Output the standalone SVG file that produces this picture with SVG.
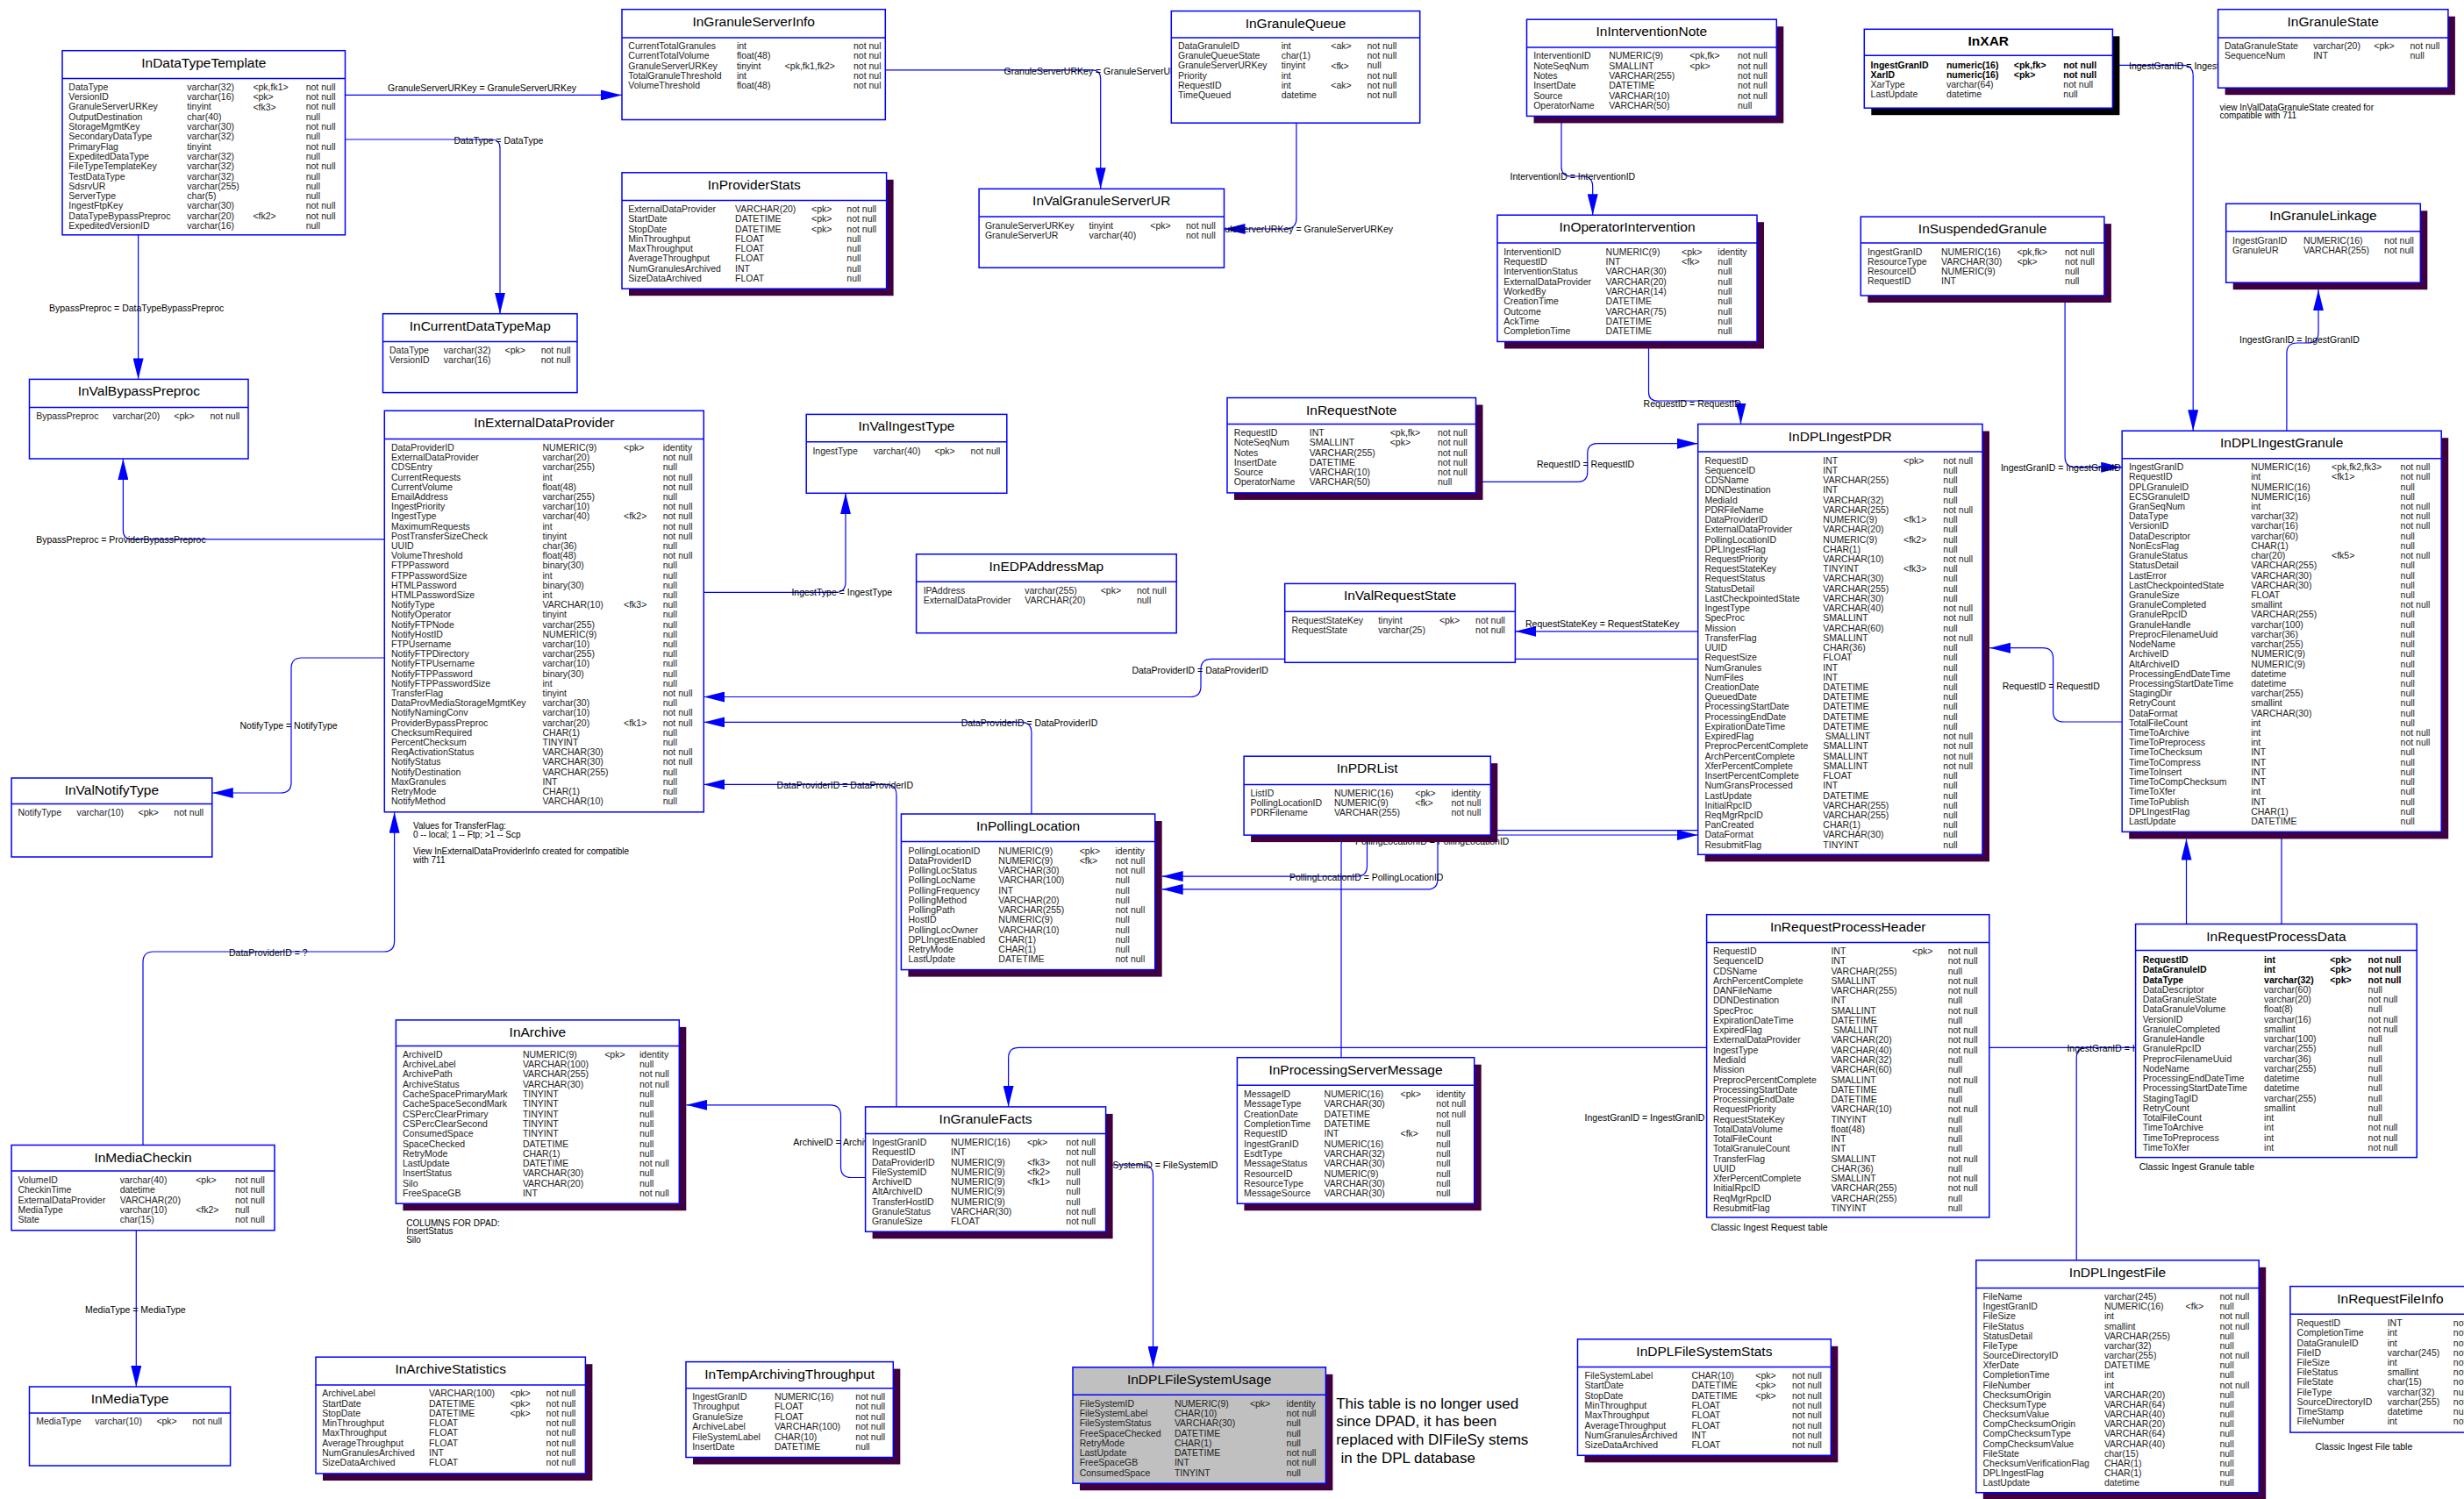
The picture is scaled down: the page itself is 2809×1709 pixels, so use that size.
<svg xmlns="http://www.w3.org/2000/svg" width="2809" height="1709" viewBox="0 0 2809 1709">
<defs>
<marker id="a" markerUnits="userSpaceOnUse" markerWidth="24" markerHeight="12" refX="24" refY="6" orient="auto"><path d="M0,0 L24,6 L0,12 z" fill="#0000ff"/></marker>
<style>
text{font-family:"Liberation Sans",Arial,sans-serif}
.r{font-size:10.5px;fill:#222}
.b{font-weight:bold;fill:#000}
.t{font-size:15.5px;fill:#000;text-anchor:middle}
.tb{font-weight:bold}
.l{font-size:10.5px;fill:#000}
.e{text-anchor:end}
.n{font-size:10px;fill:#000}
.big{font-size:17px;fill:#000}
.box{fill:#fff;stroke:#0000ff;stroke-width:1.5}
.gray{fill:#c0c0c0}
.sh{fill:#400040}
.shk{fill:#000}
.hd{stroke:#0000ff;stroke-width:1.5}
.c{fill:none;stroke:#0000ff;stroke-width:1.2;marker-end:url(#a)}
.p{fill:none;stroke:#0000ff;stroke-width:1.2}
</style>
</defs>
<rect x="0" y="0" width="2809" height="1709" fill="#fff"/>

<g id="connectors">
<path class="c" d="M393.5,108.4 H709"/>
<path class="c" d="M393.5,159 H560 Q570,159 570,169 V357.7"/>
<path class="c" d="M157.6,267.8 V432.4"/>
<path class="c" d="M438.3,614.8 H150.4 Q140.4,614.8 140.4,604.8 V523"/>
<path class="c" d="M438.3,750 H344 Q332,750 332,762 V892 Q332,904 320,904 H241.8"/>
<path class="c" d="M163,1305.5 V1097 Q163,1085 175,1085 H437.6 Q449.6,1085 449.6,1073 V925.8"/>
<path class="c" d="M155.3,1402.7 V1581"/>
<path class="c" d="M1009.3,79.9 H1244.7 Q1254.7,79.9 1254.7,89.9 V215.3"/>
<path class="c" d="M1477.9,140.2 V249 Q1477.9,261 1465.9,261 H1395.5"/>
<path class="c" d="M802.3,675.4 H952 Q964,675.4 964,663.4 V562.3"/>
<path class="c" d="M1935.7,751.3 H1381 Q1369,751.3 1369,763.3 V782.5 Q1369,794.5 1357,794.5 H802.3"/>
<path class="c" d="M1175.9,928 V835.4 Q1175.9,823.4 1163.9,823.4 H802.3"/>
<path class="c" d="M1022,1261.9 V906.4 Q1022,894.4 1010,894.4 H802.3"/>
<path class="c" d="M1780,132.4 V190 Q1780,201 1791,201 H1804 Q1815.7,201 1815.7,213 V245.2"/>
<path class="c" d="M1879.5,389.5 V447 Q1879.5,457 1889.5,457 H1974.5 Q1984.5,457 1984.5,467 V483.5"/>
<path class="c" d="M1682.5,549.3 H1798.5 Q1809.8,549.3 1809.8,538 V517 Q1809.8,505.7 1821,505.7 H1935.7"/>
<path class="c" d="M1935.7,719.8 H1727.4"/>
<path class="c" d="M1558.5,952.1 V987 Q1558.5,999.1 1546.5,999.1 H1324.7"/>
<path class="c" d="M1935.7,946.6 H1651 Q1639,946.6 1639,958.6 V1001.9 Q1639,1013.9 1627,1013.9 H1324.7"/>
<path class="c" d="M1529,1205.7 V964 Q1529,952 1541,952 H1935.7"/>
<path class="c" d="M2419.2,823 H2352.6 Q2340.6,823 2340.6,811 V750.7 Q2340.6,738.7 2328.6,738.7 H2268.2"/>
<path class="c" d="M2408.4,74.4 H2488.2 Q2500.2,74.4 2500.2,86.4 V491.2"/>
<path class="c" d="M2354.1,337 V520.7 Q2354.1,532.7 2366.1,532.7 H2419.2"/>
<path class="c" d="M2606.9,491.2 V403 Q2606.9,391 2618.9,391 H2631 Q2643,391 2643,379 V330.2"/>
<path class="c" d="M2492.5,1053.5 V956.6"/>
<path class="p" d="M2601,948.4 V1053.5"/>
<path class="c" d="M986.6,1342.5 H970.5 Q958.5,1342.5 958.5,1330.5 V1271.8 Q958.5,1259.8 946.5,1259.8 H782.4"/>
<path class="c" d="M1260.6,1328 H1302.5 Q1314.5,1328 1314.5,1340 V1558.8"/>
<path class="c" d="M2434.6,1194.4 H1161.6 Q1149.6,1194.4 1149.6,1206.4 V1261.9"/>
<path class="p" d="M2367.2,1436.8 V1206.4 Q2367.2,1194.4 2379.2,1194.4"/>
<text class="l" x="442" y="104">GranuleServerURKey = GranuleServerURKey</text>
<text class="l" x="517.5" y="163.8">DataType = DataType</text>
<text class="l" x="56" y="355.2">BypassPreproc = DataTypeBypassPreproc</text>
<text class="l" x="41.2" y="618.6">BypassPreproc = ProviderBypassPreproc</text>
<text class="l" x="273.5" y="830.8">NotifyType = NotifyType</text>
<text class="l" x="261" y="1089.8">DataProviderID = ?</text>
<text class="l" x="97" y="1497">MediaType = MediaType</text>
<text class="l" x="1144.6" y="84.8">GranuleServerURKey = GranuleServerURKey</text>
<text class="l e" x="1588" y="264.8">GranuleServerURKey = GranuleServerURKey</text>
<text class="l" x="902.4" y="679.2">IngestType = IngestType</text>
<text class="l" x="1290.4" y="768">DataProviderID = DataProviderID</text>
<text class="l" x="1095.7" y="827.8">DataProviderID = DataProviderID</text>
<text class="l" x="885.6" y="898.8">DataProviderID = DataProviderID</text>
<text class="l" x="1721.5" y="205">InterventionID = InterventionID</text>
<text class="l" x="1873.6" y="463.8">RequestID = RequestID</text>
<text class="l" x="1752" y="532.8">RequestID = RequestID</text>
<text class="l" x="1739" y="715.1">RequestStateKey = RequestStateKey</text>
<text class="l" x="1470" y="1004">PollingLocationID = PollingLocationID</text>
<text class="l" x="1545" y="962.8">PollingLocationID = PollingLocationID</text>
<text class="l" x="2282.7" y="786.1">RequestID = RequestID</text>
<text class="l" x="2427" y="79.3">IngestGranID = IngestGranID</text>
<text class="l" x="2280.9" y="537.2">IngestGranID = IngestGranID</text>
<text class="l" x="2553" y="391.1">IngestGranID = IngestGranID</text>
<text class="l" x="904.2" y="1306">ArchiveID = ArchiveID</text>
<text class="l e" x="1388.3" y="1331.8">FileSystemID = FileSystemID</text>
<text class="l" x="1806.6" y="1278.4">IngestGranID = IngestGranID</text>
<text class="l" x="2356.4" y="1199">IngestGranID = IngestGranID</text>
</g>

<g id="InDataTypeTemplate">
<rect class="box" x="71" y="57.7" width="322.5" height="210.1"/>
<line class="hd" x1="71" y1="89.5" x2="393.5" y2="89.5"/>
<text class="t" x="232.3" y="76.7">InDataTypeTemplate</text>
<text class="r" y="102.9"><tspan x="78.3">DataType</tspan><tspan x="78.3" dy="11.29">VersionID</tspan><tspan x="78.3" dy="11.29">GranuleServerURKey</tspan><tspan x="78.3" dy="11.29">OutputDestination</tspan><tspan x="78.3" dy="11.29">StorageMgmtKey</tspan><tspan x="78.3" dy="11.29">SecondaryDataType</tspan><tspan x="78.3" dy="11.29">PrimaryFlag</tspan><tspan x="78.3" dy="11.29">ExpeditedDataType</tspan><tspan x="78.3" dy="11.29">FileTypeTemplateKey</tspan><tspan x="78.3" dy="11.29">TestDataType</tspan><tspan x="78.3" dy="11.29">SdsrvUR</tspan><tspan x="78.3" dy="11.29">ServerType</tspan><tspan x="78.3" dy="11.29">IngestFtpKey</tspan><tspan x="78.3" dy="11.29">DataTypeBypassPreproc</tspan><tspan x="78.3" dy="11.29">ExpeditedVersionID</tspan></text>
<text class="r" y="102.9"><tspan x="213.3">varchar(32)</tspan><tspan x="213.3" dy="11.29">varchar(16)</tspan><tspan x="213.3" dy="11.29">tinyint</tspan><tspan x="213.3" dy="11.29">char(40)</tspan><tspan x="213.3" dy="11.29">varchar(30)</tspan><tspan x="213.3" dy="11.29">varchar(32)</tspan><tspan x="213.3" dy="11.29">tinyint</tspan><tspan x="213.3" dy="11.29">varchar(32)</tspan><tspan x="213.3" dy="11.29">varchar(32)</tspan><tspan x="213.3" dy="11.29">varchar(32)</tspan><tspan x="213.3" dy="11.29">varchar(255)</tspan><tspan x="213.3" dy="11.29">char(5)</tspan><tspan x="213.3" dy="11.29">varchar(30)</tspan><tspan x="213.3" dy="11.29">varchar(20)</tspan><tspan x="213.3" dy="11.29">varchar(16)</tspan></text>
<text class="r" x="288.4" y="102.9">&lt;pk,fk1&gt;</text>
<text class="r" x="288.4" y="114.2">&lt;pk&gt;</text>
<text class="r" x="288.4" y="125.5">&lt;fk3&gt;</text>
<text class="r" x="288.4" y="249.7">&lt;fk2&gt;</text>
<text class="r" y="102.9"><tspan x="348.7">not null</tspan><tspan x="348.7" dy="11.29">not null</tspan><tspan x="348.7" dy="11.29">not null</tspan><tspan x="348.7" dy="11.29">null</tspan><tspan x="348.7" dy="11.29">not null</tspan><tspan x="348.7" dy="11.29">null</tspan><tspan x="348.7" dy="11.29">not null</tspan><tspan x="348.7" dy="11.29">null</tspan><tspan x="348.7" dy="11.29">not null</tspan><tspan x="348.7" dy="11.29">null</tspan><tspan x="348.7" dy="11.29">null</tspan><tspan x="348.7" dy="11.29">null</tspan><tspan x="348.7" dy="11.29">not null</tspan><tspan x="348.7" dy="11.29">not null</tspan><tspan x="348.7" dy="11.29">null</tspan></text>
</g>

<g id="InValBypassPreproc">
<rect class="box" x="33.5" y="432.4" width="249.5" height="90.6"/>
<line class="hd" x1="33.5" y1="464.6" x2="283" y2="464.6"/>
<text class="t" x="158.3" y="451.4">InValBypassPreproc</text>
<text class="r" x="41.2" y="477.8">BypassPreproc</text><text class="r" x="128.6" y="477.8">varchar(20)</text><text class="r" x="198.3" y="477.8">&lt;pk&gt;</text><text class="r" x="239.5" y="477.8">not null</text>
</g>

<g id="InCurrentDataTypeMap">
<rect class="box" x="436.5" y="357.7" width="221.5" height="89.9"/>
<line class="hd" x1="436.5" y1="389.5" x2="658" y2="389.5"/>
<text class="t" x="547.3" y="376.7">InCurrentDataTypeMap</text>
<text class="r" x="444" y="402.8">DataType</text><text class="r" x="505.8" y="402.8">varchar(32)</text><text class="r" x="575.5" y="402.8">&lt;pk&gt;</text><text class="r" x="616.7" y="402.8">not null</text>
<text class="r" x="444" y="414.3">VersionID</text><text class="r" x="505.8" y="414.3">varchar(16)</text><text class="r" x="616.7" y="414.3">not null</text>
</g>

<g id="InExternalDataProvider">
<rect class="box" x="438.3" y="468.3" width="364" height="457.5"/>
<line class="hd" x1="438.3" y1="500.5" x2="802.3" y2="500.5"/>
<text class="t" x="620.3" y="487.3">InExternalDataProvider</text>
<text class="r" y="513.9"><tspan x="446">DataProviderID</tspan><tspan x="446" dy="11.2">ExternalDataProvider</tspan><tspan x="446" dy="11.2">CDSEntry</tspan><tspan x="446" dy="11.2">CurrentRequests</tspan><tspan x="446" dy="11.2">CurrentVolume</tspan><tspan x="446" dy="11.2">EmailAddress</tspan><tspan x="446" dy="11.2">IngestPriority</tspan><tspan x="446" dy="11.2">IngestType</tspan><tspan x="446" dy="11.2">MaximumRequests</tspan><tspan x="446" dy="11.2">PostTransferSizeCheck</tspan><tspan x="446" dy="11.2">UUID</tspan><tspan x="446" dy="11.2">VolumeThreshold</tspan><tspan x="446" dy="11.2">FTPPassword</tspan><tspan x="446" dy="11.2">FTPPasswordSize</tspan><tspan x="446" dy="11.2">HTMLPassword</tspan><tspan x="446" dy="11.2">HTMLPasswordSize</tspan><tspan x="446" dy="11.2">NotifyType</tspan><tspan x="446" dy="11.2">NotifyOperator</tspan><tspan x="446" dy="11.2">NotifyFTPNode</tspan><tspan x="446" dy="11.2">NotifyHostID</tspan><tspan x="446" dy="11.2">FTPUsername</tspan><tspan x="446" dy="11.2">NotifyFTPDirectory</tspan><tspan x="446" dy="11.2">NotifyFTPUsername</tspan><tspan x="446" dy="11.2">NotifyFTPPassword</tspan><tspan x="446" dy="11.2">NotifyFTPPasswordSize</tspan><tspan x="446" dy="11.2">TransferFlag</tspan><tspan x="446" dy="11.2">DataProvMediaStorageMgmtKey</tspan><tspan x="446" dy="11.2">NotifyNamingConv</tspan><tspan x="446" dy="11.2">ProviderBypassPreproc</tspan><tspan x="446" dy="11.2">ChecksumRequired</tspan><tspan x="446" dy="11.2">PercentChecksum</tspan><tspan x="446" dy="11.2">ReqActivationStatus</tspan><tspan x="446" dy="11.2">NotifyStatus</tspan><tspan x="446" dy="11.2">NotifyDestination</tspan><tspan x="446" dy="11.2">MaxGranules</tspan><tspan x="446" dy="11.2">RetryMode</tspan><tspan x="446" dy="11.2">NotifyMethod</tspan></text>
<text class="r" y="513.9"><tspan x="618.5">NUMERIC(9)</tspan><tspan x="618.5" dy="11.2">varchar(20)</tspan><tspan x="618.5" dy="11.2">varchar(255)</tspan><tspan x="618.5" dy="11.2">int</tspan><tspan x="618.5" dy="11.2">float(48)</tspan><tspan x="618.5" dy="11.2">varchar(255)</tspan><tspan x="618.5" dy="11.2">varchar(10)</tspan><tspan x="618.5" dy="11.2">varchar(40)</tspan><tspan x="618.5" dy="11.2">int</tspan><tspan x="618.5" dy="11.2">tinyint</tspan><tspan x="618.5" dy="11.2">char(36)</tspan><tspan x="618.5" dy="11.2">float(48)</tspan><tspan x="618.5" dy="11.2">binary(30)</tspan><tspan x="618.5" dy="11.2">int</tspan><tspan x="618.5" dy="11.2">binary(30)</tspan><tspan x="618.5" dy="11.2">int</tspan><tspan x="618.5" dy="11.2">VARCHAR(10)</tspan><tspan x="618.5" dy="11.2">tinyint</tspan><tspan x="618.5" dy="11.2">varchar(255)</tspan><tspan x="618.5" dy="11.2">NUMERIC(9)</tspan><tspan x="618.5" dy="11.2">varchar(10)</tspan><tspan x="618.5" dy="11.2">varchar(255)</tspan><tspan x="618.5" dy="11.2">varchar(10)</tspan><tspan x="618.5" dy="11.2">binary(30)</tspan><tspan x="618.5" dy="11.2">int</tspan><tspan x="618.5" dy="11.2">tinyint</tspan><tspan x="618.5" dy="11.2">varchar(30)</tspan><tspan x="618.5" dy="11.2">varchar(10)</tspan><tspan x="618.5" dy="11.2">varchar(20)</tspan><tspan x="618.5" dy="11.2">CHAR(1)</tspan><tspan x="618.5" dy="11.2">TINYINT</tspan><tspan x="618.5" dy="11.2">VARCHAR(30)</tspan><tspan x="618.5" dy="11.2">VARCHAR(30)</tspan><tspan x="618.5" dy="11.2">VARCHAR(255)</tspan><tspan x="618.5" dy="11.2">INT</tspan><tspan x="618.5" dy="11.2">CHAR(1)</tspan><tspan x="618.5" dy="11.2">VARCHAR(10)</tspan></text>
<text class="r" x="711" y="513.9">&lt;pk&gt;</text>
<text class="r" x="711" y="592.3">&lt;fk2&gt;</text>
<text class="r" x="711" y="693.1">&lt;fk3&gt;</text>
<text class="r" x="711" y="827.5">&lt;fk1&gt;</text>
<text class="r" y="513.9"><tspan x="755.7">identity</tspan><tspan x="755.7" dy="11.2">not null</tspan><tspan x="755.7" dy="11.2">null</tspan><tspan x="755.7" dy="11.2">not null</tspan><tspan x="755.7" dy="11.2">not null</tspan><tspan x="755.7" dy="11.2">null</tspan><tspan x="755.7" dy="11.2">not null</tspan><tspan x="755.7" dy="11.2">not null</tspan><tspan x="755.7" dy="11.2">not null</tspan><tspan x="755.7" dy="11.2">not null</tspan><tspan x="755.7" dy="11.2">null</tspan><tspan x="755.7" dy="11.2">not null</tspan><tspan x="755.7" dy="11.2">null</tspan><tspan x="755.7" dy="11.2">null</tspan><tspan x="755.7" dy="11.2">null</tspan><tspan x="755.7" dy="11.2">null</tspan><tspan x="755.7" dy="11.2">null</tspan><tspan x="755.7" dy="11.2">null</tspan><tspan x="755.7" dy="11.2">null</tspan><tspan x="755.7" dy="11.2">null</tspan><tspan x="755.7" dy="11.2">null</tspan><tspan x="755.7" dy="11.2">null</tspan><tspan x="755.7" dy="11.2">null</tspan><tspan x="755.7" dy="11.2">null</tspan><tspan x="755.7" dy="11.2">null</tspan><tspan x="755.7" dy="11.2">not null</tspan><tspan x="755.7" dy="11.2">null</tspan><tspan x="755.7" dy="11.2">not null</tspan><tspan x="755.7" dy="11.2">not null</tspan><tspan x="755.7" dy="11.2">null</tspan><tspan x="755.7" dy="11.2">null</tspan><tspan x="755.7" dy="11.2">not null</tspan><tspan x="755.7" dy="11.2">not null</tspan><tspan x="755.7" dy="11.2">null</tspan><tspan x="755.7" dy="11.2">null</tspan><tspan x="755.7" dy="11.2">null</tspan><tspan x="755.7" dy="11.2">null</tspan></text>
</g>

<g id="InValNotifyType">
<rect class="box" x="13.1" y="887" width="228.7" height="90"/>
<line class="hd" x1="13.1" y1="916.6" x2="241.8" y2="916.6"/>
<text class="t" x="127.4" y="906">InValNotifyType</text>
<text class="r" x="20.4" y="930">NotifyType</text><text class="r" x="87.4" y="930">varchar(10)</text><text class="r" x="157.6" y="930">&lt;pk&gt;</text><text class="r" x="198.3" y="930">not null</text>
</g>

<g id="InMediaCheckin">
<rect class="box" x="13.1" y="1305.5" width="299.9" height="97.2"/>
<line class="hd" x1="13.1" y1="1334.9" x2="313" y2="1334.9"/>
<text class="t" x="163" y="1324.5">InMediaCheckin</text>
<text class="r" y="1349.2"><tspan x="20.4">VolumeID</tspan><tspan x="20.4" dy="11.25">CheckinTime</tspan><tspan x="20.4" dy="11.25">ExternalDataProvider</tspan><tspan x="20.4" dy="11.25">MediaType</tspan><tspan x="20.4" dy="11.25">State</tspan></text>
<text class="r" y="1349.2"><tspan x="136.7">varchar(40)</tspan><tspan x="136.7" dy="11.25">datetime</tspan><tspan x="136.7" dy="11.25">VARCHAR(20)</tspan><tspan x="136.7" dy="11.25">varchar(10)</tspan><tspan x="136.7" dy="11.25">char(15)</tspan></text>
<text class="r" x="223.2" y="1349.2">&lt;pk&gt;</text>
<text class="r" x="223.2" y="1383">&lt;fk2&gt;</text>
<text class="r" y="1349.2"><tspan x="268">not null</tspan><tspan x="268" dy="11.25">not null</tspan><tspan x="268" dy="11.25">not null</tspan><tspan x="268" dy="11.25">null</tspan><tspan x="268" dy="11.25">not null</tspan></text>
</g>

<g id="InMediaType">
<rect class="box" x="33.5" y="1581" width="229.1" height="90"/>
<line class="hd" x1="33.5" y1="1611" x2="262.6" y2="1611"/>
<text class="t" x="148" y="1600">InMediaType</text>
<text class="r" x="41.2" y="1624.3">MediaType</text><text class="r" x="108.2" y="1624.3">varchar(10)</text><text class="r" x="178.4" y="1624.3">&lt;pk&gt;</text><text class="r" x="219.2" y="1624.3">not null</text>
</g>

<g id="InArchive">
<rect class="sh" x="459.4" y="1170.9" width="322.9" height="209.3"/>
<rect class="box" x="451.4" y="1162.9" width="322.9" height="209.3"/>
<line class="hd" x1="451.4" y1="1192.6" x2="774.3" y2="1192.6"/>
<text class="t" x="612.9" y="1181.9">InArchive</text>
<text class="r" y="1205.8"><tspan x="459">ArchiveID</tspan><tspan x="459" dy="11.3">ArchiveLabel</tspan><tspan x="459" dy="11.3">ArchivePath</tspan><tspan x="459" dy="11.3">ArchiveStatus</tspan><tspan x="459" dy="11.3">CacheSpacePrimaryMark</tspan><tspan x="459" dy="11.3">CacheSpaceSecondMark</tspan><tspan x="459" dy="11.3">CSPercClearPrimary</tspan><tspan x="459" dy="11.3">CSPercClearSecond</tspan><tspan x="459" dy="11.3">ConsumedSpace</tspan><tspan x="459" dy="11.3">SpaceChecked</tspan><tspan x="459" dy="11.3">RetryMode</tspan><tspan x="459" dy="11.3">LastUpdate</tspan><tspan x="459" dy="11.3">InsertStatus</tspan><tspan x="459" dy="11.3">Silo</tspan><tspan x="459" dy="11.3">FreeSpaceGB</tspan></text>
<text class="r" y="1205.8"><tspan x="595.9">NUMERIC(9)</tspan><tspan x="595.9" dy="11.3">VARCHAR(100)</tspan><tspan x="595.9" dy="11.3">VARCHAR(255)</tspan><tspan x="595.9" dy="11.3">VARCHAR(30)</tspan><tspan x="595.9" dy="11.3">TINYINT</tspan><tspan x="595.9" dy="11.3">TINYINT</tspan><tspan x="595.9" dy="11.3">TINYINT</tspan><tspan x="595.9" dy="11.3">TINYINT</tspan><tspan x="595.9" dy="11.3">TINYINT</tspan><tspan x="595.9" dy="11.3">DATETIME</tspan><tspan x="595.9" dy="11.3">CHAR(1)</tspan><tspan x="595.9" dy="11.3">DATETIME</tspan><tspan x="595.9" dy="11.3">VARCHAR(30)</tspan><tspan x="595.9" dy="11.3">VARCHAR(20)</tspan><tspan x="595.9" dy="11.3">INT</tspan></text>
<text class="r" x="689.2" y="1205.8">&lt;pk&gt;</text>
<text class="r" y="1205.8"><tspan x="729">identity</tspan><tspan x="729" dy="11.3">null</tspan><tspan x="729" dy="11.3">not null</tspan><tspan x="729" dy="11.3">not null</tspan><tspan x="729" dy="11.3">null</tspan><tspan x="729" dy="11.3">null</tspan><tspan x="729" dy="11.3">null</tspan><tspan x="729" dy="11.3">null</tspan><tspan x="729" dy="11.3">null</tspan><tspan x="729" dy="11.3">null</tspan><tspan x="729" dy="11.3">null</tspan><tspan x="729" dy="11.3">not null</tspan><tspan x="729" dy="11.3">null</tspan><tspan x="729" dy="11.3">null</tspan><tspan x="729" dy="11.3">not null</tspan></text>
</g>

<g id="InArchiveStatistics">
<rect class="sh" x="368" y="1555.2" width="307.4" height="132.8"/>
<rect class="box" x="360" y="1547.2" width="307.4" height="132.8"/>
<line class="hd" x1="360" y1="1579" x2="667.4" y2="1579"/>
<text class="t" x="513.7" y="1566.2">InArchiveStatistics</text>
<text class="r" y="1592.3"><tspan x="367.2">ArchiveLabel</tspan><tspan x="367.2" dy="11.26">StartDate</tspan><tspan x="367.2" dy="11.26">StopDate</tspan><tspan x="367.2" dy="11.26">MinThroughput</tspan><tspan x="367.2" dy="11.26">MaxThroughput</tspan><tspan x="367.2" dy="11.26">AverageThroughput</tspan><tspan x="367.2" dy="11.26">NumGranulesArchived</tspan><tspan x="367.2" dy="11.26">SizeDataArchived</tspan></text>
<text class="r" y="1592.3"><tspan x="489">VARCHAR(100)</tspan><tspan x="489" dy="11.26">DATETIME</tspan><tspan x="489" dy="11.26">DATETIME</tspan><tspan x="489" dy="11.26">FLOAT</tspan><tspan x="489" dy="11.26">FLOAT</tspan><tspan x="489" dy="11.26">FLOAT</tspan><tspan x="489" dy="11.26">INT</tspan><tspan x="489" dy="11.26">FLOAT</tspan></text>
<text class="r" y="1592.3"><tspan x="581.4">&lt;pk&gt;</tspan><tspan x="581.4" dy="11.26">&lt;pk&gt;</tspan><tspan x="581.4" dy="11.26">&lt;pk&gt;</tspan></text>
<text class="r" y="1592.3"><tspan x="622.6">not null</tspan><tspan x="622.6" dy="11.26">not null</tspan><tspan x="622.6" dy="11.26">not null</tspan><tspan x="622.6" dy="11.26">not null</tspan><tspan x="622.6" dy="11.26">not null</tspan><tspan x="622.6" dy="11.26">not null</tspan><tspan x="622.6" dy="11.26">not null</tspan><tspan x="622.6" dy="11.26">not null</tspan></text>
</g>

<g id="InGranuleServerInfo">
<rect class="box" x="709" y="10.7" width="300.3" height="125.8"/>
<line class="hd" x1="709" y1="42.9" x2="1009.3" y2="42.9"/>
<text class="t" x="859.2" y="29.7">InGranuleServerInfo</text>
<text class="r" y="56"><tspan x="716.3">CurrentTotalGranules</tspan><tspan x="716.3" dy="11.27">CurrentTotalVolume</tspan><tspan x="716.3" dy="11.27">GranuleServerURKey</tspan><tspan x="716.3" dy="11.27">TotalGranuleThreshold</tspan><tspan x="716.3" dy="11.27">VolumeThreshold</tspan></text>
<text class="r" y="56"><tspan x="839.9">int</tspan><tspan x="839.9" dy="11.27">float(48)</tspan><tspan x="839.9" dy="11.27">tinyint</tspan><tspan x="839.9" dy="11.27">int</tspan><tspan x="839.9" dy="11.27">float(48)</tspan></text>
<text class="r" x="894.7" y="78.5">&lt;pk,fk1,fk2&gt;</text>
<text class="r" y="56"><tspan x="973">not nul</tspan><tspan x="973" dy="11.27">not nul</tspan><tspan x="973" dy="11.27">not nul</tspan><tspan x="973" dy="11.27">not nul</tspan><tspan x="973" dy="11.27">not nul</tspan></text>
</g>

<g id="InProviderStats">
<rect class="sh" x="717" y="204.8" width="301.6" height="132.4"/>
<rect class="box" x="709" y="196.8" width="301.6" height="132.4"/>
<line class="hd" x1="709" y1="228.6" x2="1010.6" y2="228.6"/>
<text class="t" x="859.8" y="215.8">InProviderStats</text>
<text class="r" y="242"><tspan x="716.3">ExternalDataProvider</tspan><tspan x="716.3" dy="11.26">StartDate</tspan><tspan x="716.3" dy="11.26">StopDate</tspan><tspan x="716.3" dy="11.26">MinThroughput</tspan><tspan x="716.3" dy="11.26">MaxThroughput</tspan><tspan x="716.3" dy="11.26">AverageThroughput</tspan><tspan x="716.3" dy="11.26">NumGranulesArchived</tspan><tspan x="716.3" dy="11.26">SizeDataArchived</tspan></text>
<text class="r" y="242"><tspan x="838.1">VARCHAR(20)</tspan><tspan x="838.1" dy="11.26">DATETIME</tspan><tspan x="838.1" dy="11.26">DATETIME</tspan><tspan x="838.1" dy="11.26">FLOAT</tspan><tspan x="838.1" dy="11.26">FLOAT</tspan><tspan x="838.1" dy="11.26">FLOAT</tspan><tspan x="838.1" dy="11.26">INT</tspan><tspan x="838.1" dy="11.26">FLOAT</tspan></text>
<text class="r" y="242"><tspan x="925">&lt;pk&gt;</tspan><tspan x="925" dy="11.26">&lt;pk&gt;</tspan><tspan x="925" dy="11.26">&lt;pk&gt;</tspan></text>
<text class="r" y="242"><tspan x="965.3">not null</tspan><tspan x="965.3" dy="11.26">not null</tspan><tspan x="965.3" dy="11.26">not null</tspan><tspan x="965.3" dy="11.26">null</tspan><tspan x="965.3" dy="11.26">null</tspan><tspan x="965.3" dy="11.26">null</tspan><tspan x="965.3" dy="11.26">null</tspan><tspan x="965.3" dy="11.26">null</tspan></text>
</g>

<g id="InValGranuleServerUR">
<rect class="box" x="1116.1" y="215.3" width="279.4" height="89.9"/>
<line class="hd" x1="1116.1" y1="247.1" x2="1395.5" y2="247.1"/>
<text class="t" x="1255.8" y="234.3">InValGranuleServerUR</text>
<text class="r" x="1122.9" y="261.3">GranuleServerURKey</text><text class="r" x="1241.5" y="261.3">tinyint</text><text class="r" x="1311.3" y="261.3">&lt;pk&gt;</text><text class="r" x="1352" y="261.3">not null</text>
<text class="r" x="1122.9" y="272">GranuleServerUR</text><text class="r" x="1241.5" y="272">varchar(40)</text><text class="r" x="1352" y="272">not null</text>
</g>

<g id="InValIngestType">
<rect class="box" x="919.2" y="472.4" width="228.6" height="89.9"/>
<line class="hd" x1="919.2" y1="503.8" x2="1147.8" y2="503.8"/>
<text class="t" x="1033.5" y="491.4">InValIngestType</text>
<text class="r" x="926.4" y="518">IngestType</text><text class="r" x="995.7" y="518">varchar(40)</text><text class="r" x="1065.4" y="518">&lt;pk&gt;</text><text class="r" x="1106.6" y="518">not null</text>
</g>

<g id="InGranuleQueue">
<rect class="box" x="1335.3" y="12.6" width="283.4" height="127.6"/>
<line class="hd" x1="1335.3" y1="42.9" x2="1618.7" y2="42.9"/>
<text class="t" x="1477" y="31.6">InGranuleQueue</text>
<text class="r" y="56"><tspan x="1343">DataGranuleID</tspan><tspan x="1343" dy="11.24">GranuleQueueState</tspan><tspan x="1343" dy="11.24">GranuleServerURKey</tspan><tspan x="1343" dy="11.24">Priority</tspan><tspan x="1343" dy="11.24">RequestID</tspan><tspan x="1343" dy="11.24">TimeQueued</tspan></text>
<text class="r" y="56"><tspan x="1460.7">int</tspan><tspan x="1460.7" dy="11.24">char(1)</tspan><tspan x="1460.7" dy="11.24">tinyint</tspan><tspan x="1460.7" dy="11.24">int</tspan><tspan x="1460.7" dy="11.24">int</tspan><tspan x="1460.7" dy="11.24">datetime</tspan></text>
<text class="r" x="1517.3" y="56">&lt;ak&gt;</text>
<text class="r" x="1517.3" y="78.5">&lt;fk&gt;</text>
<text class="r" x="1517.3" y="101">&lt;ak&gt;</text>
<text class="r" y="56"><tspan x="1558.5">not null</tspan><tspan x="1558.5" dy="11.24">not null</tspan><tspan x="1558.5" dy="11.24">null</tspan><tspan x="1558.5" dy="11.24">not null</tspan><tspan x="1558.5" dy="11.24">not null</tspan><tspan x="1558.5" dy="11.24">not null</tspan></text>
</g>

<g id="InInterventionNote">
<rect class="sh" x="1748.5" y="30.2" width="284.8" height="110.2"/>
<rect class="box" x="1740.5" y="22.2" width="284.8" height="110.2"/>
<line class="hd" x1="1740.5" y1="54" x2="2025.3" y2="54"/>
<text class="t" x="1882.9" y="41.2">InInterventionNote</text>
<text class="r" y="67.4"><tspan x="1748.2">InterventionID</tspan><tspan x="1748.2" dy="11.3">NoteSeqNum</tspan><tspan x="1748.2" dy="11.3">Notes</tspan><tspan x="1748.2" dy="11.3">InsertDate</tspan><tspan x="1748.2" dy="11.3">Source</tspan><tspan x="1748.2" dy="11.3">OperatorName</tspan></text>
<text class="r" y="67.4"><tspan x="1834.2">NUMERIC(9)</tspan><tspan x="1834.2" dy="11.3">SMALLINT</tspan><tspan x="1834.2" dy="11.3">VARCHAR(255)</tspan><tspan x="1834.2" dy="11.3">DATETIME</tspan><tspan x="1834.2" dy="11.3">VARCHAR(10)</tspan><tspan x="1834.2" dy="11.3">VARCHAR(50)</tspan></text>
<text class="r" y="67.4"><tspan x="1926.2">&lt;pk,fk&gt;</tspan><tspan x="1926.2" dy="11.3">&lt;pk&gt;</tspan></text>
<text class="r" y="67.4"><tspan x="1981">not null</tspan><tspan x="1981" dy="11.3">not null</tspan><tspan x="1981" dy="11.3">not null</tspan><tspan x="1981" dy="11.3">not null</tspan><tspan x="1981" dy="11.3">not null</tspan><tspan x="1981" dy="11.3">null</tspan></text>
</g>

<g id="InOperatorIntervention">
<rect class="sh" x="1715" y="253.2" width="296" height="144.3"/>
<rect class="box" x="1707" y="245.2" width="296" height="144.3"/>
<line class="hd" x1="1707" y1="277" x2="2003" y2="277"/>
<text class="t" x="1855" y="264.2">InOperatorIntervention</text>
<text class="r" y="290.8"><tspan x="1714.2">InterventionID</tspan><tspan x="1714.2" dy="11.3">RequestID</tspan><tspan x="1714.2" dy="11.3">InterventionStatus</tspan><tspan x="1714.2" dy="11.3">ExternalDataProvider</tspan><tspan x="1714.2" dy="11.3">WorkedBy</tspan><tspan x="1714.2" dy="11.3">CreationTime</tspan><tspan x="1714.2" dy="11.3">Outcome</tspan><tspan x="1714.2" dy="11.3">AckTime</tspan><tspan x="1714.2" dy="11.3">CompletionTime</tspan></text>
<text class="r" y="290.8"><tspan x="1830.6">NUMERIC(9)</tspan><tspan x="1830.6" dy="11.3">INT</tspan><tspan x="1830.6" dy="11.3">VARCHAR(30)</tspan><tspan x="1830.6" dy="11.3">VARCHAR(20)</tspan><tspan x="1830.6" dy="11.3">VARCHAR(14)</tspan><tspan x="1830.6" dy="11.3">DATETIME</tspan><tspan x="1830.6" dy="11.3">VARCHAR(75)</tspan><tspan x="1830.6" dy="11.3">DATETIME</tspan><tspan x="1830.6" dy="11.3">DATETIME</tspan></text>
<text class="r" y="290.8"><tspan x="1917.1">&lt;pk&gt;</tspan><tspan x="1917.1" dy="11.3">&lt;fk&gt;</tspan></text>
<text class="r" y="290.8"><tspan x="1958.3">identity</tspan><tspan x="1958.3" dy="11.3">null</tspan><tspan x="1958.3" dy="11.3">null</tspan><tspan x="1958.3" dy="11.3">null</tspan><tspan x="1958.3" dy="11.3">null</tspan><tspan x="1958.3" dy="11.3">null</tspan><tspan x="1958.3" dy="11.3">null</tspan><tspan x="1958.3" dy="11.3">null</tspan><tspan x="1958.3" dy="11.3">null</tspan></text>
</g>

<g id="InRequestNote">
<rect class="sh" x="1407" y="461.5" width="283.5" height="108.4"/>
<rect class="box" x="1399" y="453.5" width="283.5" height="108.4"/>
<line class="hd" x1="1399" y1="483.5" x2="1682.5" y2="483.5"/>
<text class="t" x="1540.7" y="472.5">InRequestNote</text>
<text class="r" y="497.3"><tspan x="1406.8">RequestID</tspan><tspan x="1406.8" dy="11.16">NoteSeqNum</tspan><tspan x="1406.8" dy="11.16">Notes</tspan><tspan x="1406.8" dy="11.16">InsertDate</tspan><tspan x="1406.8" dy="11.16">Source</tspan><tspan x="1406.8" dy="11.16">OperatorName</tspan></text>
<text class="r" y="497.3"><tspan x="1492.8">INT</tspan><tspan x="1492.8" dy="11.16">SMALLINT</tspan><tspan x="1492.8" dy="11.16">VARCHAR(255)</tspan><tspan x="1492.8" dy="11.16">DATETIME</tspan><tspan x="1492.8" dy="11.16">VARCHAR(10)</tspan><tspan x="1492.8" dy="11.16">VARCHAR(50)</tspan></text>
<text class="r" y="497.3"><tspan x="1584.7">&lt;pk,fk&gt;</tspan><tspan x="1584.7" dy="11.16">&lt;pk&gt;</tspan></text>
<text class="r" y="497.3"><tspan x="1639">not null</tspan><tspan x="1639" dy="11.16">not null</tspan><tspan x="1639" dy="11.16">not null</tspan><tspan x="1639" dy="11.16">not null</tspan><tspan x="1639" dy="11.16">not null</tspan><tspan x="1639" dy="11.16">null</tspan></text>
</g>

<g id="InDPLIngestPDR">
<rect class="sh" x="1943.7" y="491.5" width="324.3" height="490.8"/>
<rect class="box" x="1935.7" y="483.5" width="324.3" height="490.8"/>
<line class="hd" x1="1935.7" y1="514.9" x2="2260" y2="514.9"/>
<text class="t" x="2097.8" y="502.5">InDPLIngestPDR</text>
<text class="r" y="528.7"><tspan x="1943.4">RequestID</tspan><tspan x="1943.4" dy="11.23">SequenceID</tspan><tspan x="1943.4" dy="11.23">CDSName</tspan><tspan x="1943.4" dy="11.23">DDNDestination</tspan><tspan x="1943.4" dy="11.23">MediaId</tspan><tspan x="1943.4" dy="11.23">PDRFileName</tspan><tspan x="1943.4" dy="11.23">DataProviderID</tspan><tspan x="1943.4" dy="11.23">ExternalDataProvider</tspan><tspan x="1943.4" dy="11.23">PollingLocationID</tspan><tspan x="1943.4" dy="11.23">DPLIngestFlag</tspan><tspan x="1943.4" dy="11.23">RequestPriority</tspan><tspan x="1943.4" dy="11.23">RequestStateKey</tspan><tspan x="1943.4" dy="11.23">RequestStatus</tspan><tspan x="1943.4" dy="11.23">StatusDetail</tspan><tspan x="1943.4" dy="11.23">LastCheckpointedState</tspan><tspan x="1943.4" dy="11.23">IngestType</tspan><tspan x="1943.4" dy="11.23">SpecProc</tspan><tspan x="1943.4" dy="11.23">Mission</tspan><tspan x="1943.4" dy="11.23">TransferFlag</tspan><tspan x="1943.4" dy="11.23">UUID</tspan><tspan x="1943.4" dy="11.23">RequestSize</tspan><tspan x="1943.4" dy="11.23">NumGranules</tspan><tspan x="1943.4" dy="11.23">NumFiles</tspan><tspan x="1943.4" dy="11.23">CreationDate</tspan><tspan x="1943.4" dy="11.23">QueuedDate</tspan><tspan x="1943.4" dy="11.23">ProcessingStartDate</tspan><tspan x="1943.4" dy="11.23">ProcessingEndDate</tspan><tspan x="1943.4" dy="11.23">ExpirationDateTime</tspan><tspan x="1943.4" dy="11.23">ExpiredFlag</tspan><tspan x="1943.4" dy="11.23">PreprocPercentComplete</tspan><tspan x="1943.4" dy="11.23">ArchPercentComplete</tspan><tspan x="1943.4" dy="11.23">XferPercentComplete</tspan><tspan x="1943.4" dy="11.23">InsertPercentComplete</tspan><tspan x="1943.4" dy="11.23">NumGransProcessed</tspan><tspan x="1943.4" dy="11.23">LastUpdate</tspan><tspan x="1943.4" dy="11.23">InitialRpcID</tspan><tspan x="1943.4" dy="11.23">ReqMgrRpcID</tspan><tspan x="1943.4" dy="11.23">PanCreated</tspan><tspan x="1943.4" dy="11.23">DataFormat</tspan><tspan x="1943.4" dy="11.23">ResubmitFlag</tspan></text>
<text class="r" y="528.7"><tspan x="2078.3">INT</tspan><tspan x="2078.3" dy="11.23">INT</tspan><tspan x="2078.3" dy="11.23">VARCHAR(255)</tspan><tspan x="2078.3" dy="11.23">INT</tspan><tspan x="2078.3" dy="11.23">VARCHAR(32)</tspan><tspan x="2078.3" dy="11.23">VARCHAR(255)</tspan><tspan x="2078.3" dy="11.23">NUMERIC(9)</tspan><tspan x="2078.3" dy="11.23">VARCHAR(20)</tspan><tspan x="2078.3" dy="11.23">NUMERIC(9)</tspan><tspan x="2078.3" dy="11.23">CHAR(1)</tspan><tspan x="2078.3" dy="11.23">VARCHAR(10)</tspan><tspan x="2078.3" dy="11.23">TINYINT</tspan><tspan x="2078.3" dy="11.23">VARCHAR(30)</tspan><tspan x="2078.3" dy="11.23">VARCHAR(255)</tspan><tspan x="2078.3" dy="11.23">VARCHAR(30)</tspan><tspan x="2078.3" dy="11.23">VARCHAR(40)</tspan><tspan x="2078.3" dy="11.23">SMALLINT</tspan><tspan x="2078.3" dy="11.23">VARCHAR(60)</tspan><tspan x="2078.3" dy="11.23">SMALLINT</tspan><tspan x="2078.3" dy="11.23">CHAR(36)</tspan><tspan x="2078.3" dy="11.23">FLOAT</tspan><tspan x="2078.3" dy="11.23">INT</tspan><tspan x="2078.3" dy="11.23">INT</tspan><tspan x="2078.3" dy="11.23">DATETIME</tspan><tspan x="2078.3" dy="11.23">DATETIME</tspan><tspan x="2078.3" dy="11.23">DATETIME</tspan><tspan x="2078.3" dy="11.23">DATETIME</tspan><tspan x="2078.3" dy="11.23">DATETIME</tspan><tspan x="2080.8" dy="11.23">SMALLINT</tspan><tspan x="2078.3" dy="11.23">SMALLINT</tspan><tspan x="2078.3" dy="11.23">SMALLINT</tspan><tspan x="2078.3" dy="11.23">SMALLINT</tspan><tspan x="2078.3" dy="11.23">FLOAT</tspan><tspan x="2078.3" dy="11.23">INT</tspan><tspan x="2078.3" dy="11.23">DATETIME</tspan><tspan x="2078.3" dy="11.23">VARCHAR(255)</tspan><tspan x="2078.3" dy="11.23">VARCHAR(255)</tspan><tspan x="2078.3" dy="11.23">CHAR(1)</tspan><tspan x="2078.3" dy="11.23">VARCHAR(30)</tspan><tspan x="2078.3" dy="11.23">TINYINT</tspan></text>
<text class="r" x="2170" y="528.7">&lt;pk&gt;</text>
<text class="r" x="2170" y="596.1">&lt;fk1&gt;</text>
<text class="r" x="2170" y="618.5">&lt;fk2&gt;</text>
<text class="r" x="2170" y="652.2">&lt;fk3&gt;</text>
<text class="r" y="528.7"><tspan x="2215.3">not null</tspan><tspan x="2215.3" dy="11.23">null</tspan><tspan x="2215.3" dy="11.23">null</tspan><tspan x="2215.3" dy="11.23">null</tspan><tspan x="2215.3" dy="11.23">null</tspan><tspan x="2215.3" dy="11.23">not null</tspan><tspan x="2215.3" dy="11.23">null</tspan><tspan x="2215.3" dy="11.23">null</tspan><tspan x="2215.3" dy="11.23">null</tspan><tspan x="2215.3" dy="11.23">null</tspan><tspan x="2215.3" dy="11.23">not null</tspan><tspan x="2215.3" dy="11.23">null</tspan><tspan x="2215.3" dy="11.23">null</tspan><tspan x="2215.3" dy="11.23">null</tspan><tspan x="2215.3" dy="11.23">null</tspan><tspan x="2215.3" dy="11.23">not null</tspan><tspan x="2215.3" dy="11.23">not null</tspan><tspan x="2215.3" dy="11.23">null</tspan><tspan x="2215.3" dy="11.23">not null</tspan><tspan x="2215.3" dy="11.23">null</tspan><tspan x="2215.3" dy="11.23">null</tspan><tspan x="2215.3" dy="11.23">null</tspan><tspan x="2215.3" dy="11.23">null</tspan><tspan x="2215.3" dy="11.23">null</tspan><tspan x="2215.3" dy="11.23">null</tspan><tspan x="2215.3" dy="11.23">null</tspan><tspan x="2215.3" dy="11.23">null</tspan><tspan x="2215.3" dy="11.23">null</tspan><tspan x="2215.3" dy="11.23">not null</tspan><tspan x="2215.3" dy="11.23">not null</tspan><tspan x="2215.3" dy="11.23">not null</tspan><tspan x="2215.3" dy="11.23">not null</tspan><tspan x="2215.3" dy="11.23">null</tspan><tspan x="2215.3" dy="11.23">null</tspan><tspan x="2215.3" dy="11.23">null</tspan><tspan x="2215.3" dy="11.23">null</tspan><tspan x="2215.3" dy="11.23">null</tspan><tspan x="2215.3" dy="11.23">null</tspan><tspan x="2215.3" dy="11.23">null</tspan><tspan x="2215.3" dy="11.23">null</tspan></text>
</g>

<g id="InValRequestState">
<rect class="box" x="1464.7" y="665.4" width="262.7" height="89.9"/>
<line class="hd" x1="1464.7" y1="697.2" x2="1727.4" y2="697.2"/>
<text class="t" x="1596" y="684.4">InValRequestState</text>
<text class="r" x="1472.4" y="711">RequestStateKey</text><text class="r" x="1571.2" y="711">tinyint</text><text class="r" x="1640.9" y="711">&lt;pk&gt;</text><text class="r" x="1682.1" y="711">not null</text>
<text class="r" x="1472.4" y="722.1">RequestState</text><text class="r" x="1571.2" y="722.1">varchar(25)</text><text class="r" x="1682.1" y="722.1">not null</text>
</g>

<g id="InEDPAddressMap">
<rect class="box" x="1044.6" y="631.8" width="296.6" height="89.9"/>
<line class="hd" x1="1044.6" y1="663.2" x2="1341.2" y2="663.2"/>
<text class="t" x="1192.9" y="650.8">InEDPAddressMap</text>
<text class="r" x="1052.7" y="677">IPAddress</text><text class="r" x="1168.2" y="677">varchar(255)</text><text class="r" x="1254.7" y="677">&lt;pk&gt;</text><text class="r" x="1295.9" y="677">not null</text>
<text class="r" x="1052.7" y="688.1">ExternalDataProvider</text><text class="r" x="1168.2" y="688.1">VARCHAR(20)</text><text class="r" x="1295.9" y="688.1">null</text>
</g>

<g id="InPollingLocation">
<rect class="sh" x="1035.4" y="936" width="289.3" height="177.6"/>
<rect class="box" x="1027.4" y="928" width="289.3" height="177.6"/>
<line class="hd" x1="1027.4" y1="959.5" x2="1316.7" y2="959.5"/>
<text class="t" x="1172" y="947">InPollingLocation</text>
<text class="r" y="973.7"><tspan x="1035.5">PollingLocationID</tspan><tspan x="1035.5" dy="11.23">DataProviderID</tspan><tspan x="1035.5" dy="11.23">PollingLocStatus</tspan><tspan x="1035.5" dy="11.23">PollingLocName</tspan><tspan x="1035.5" dy="11.23">PollingFrequency</tspan><tspan x="1035.5" dy="11.23">PollingMethod</tspan><tspan x="1035.5" dy="11.23">PollingPath</tspan><tspan x="1035.5" dy="11.23">HostID</tspan><tspan x="1035.5" dy="11.23">PollingLocOwner</tspan><tspan x="1035.5" dy="11.23">DPLIngestEnabled</tspan><tspan x="1035.5" dy="11.23">RetryMode</tspan><tspan x="1035.5" dy="11.23">LastUpdate</tspan></text>
<text class="r" y="973.7"><tspan x="1138.3">NUMERIC(9)</tspan><tspan x="1138.3" dy="11.23">NUMERIC(9)</tspan><tspan x="1138.3" dy="11.23">VARCHAR(30)</tspan><tspan x="1138.3" dy="11.23">VARCHAR(100)</tspan><tspan x="1138.3" dy="11.23">INT</tspan><tspan x="1138.3" dy="11.23">VARCHAR(20)</tspan><tspan x="1138.3" dy="11.23">VARCHAR(255)</tspan><tspan x="1138.3" dy="11.23">NUMERIC(9)</tspan><tspan x="1138.3" dy="11.23">VARCHAR(10)</tspan><tspan x="1138.3" dy="11.23">CHAR(1)</tspan><tspan x="1138.3" dy="11.23">CHAR(1)</tspan><tspan x="1138.3" dy="11.23">DATETIME</tspan></text>
<text class="r" y="973.7"><tspan x="1230.7">&lt;pk&gt;</tspan><tspan x="1230.7" dy="11.23">&lt;fk&gt;</tspan></text>
<text class="r" y="973.7"><tspan x="1271.4">identity</tspan><tspan x="1271.4" dy="11.23">not null</tspan><tspan x="1271.4" dy="11.23">not null</tspan><tspan x="1271.4" dy="11.23">null</tspan><tspan x="1271.4" dy="11.23">null</tspan><tspan x="1271.4" dy="11.23">null</tspan><tspan x="1271.4" dy="11.23">not null</tspan><tspan x="1271.4" dy="11.23">null</tspan><tspan x="1271.4" dy="11.23">null</tspan><tspan x="1271.4" dy="11.23">null</tspan><tspan x="1271.4" dy="11.23">null</tspan><tspan x="1271.4" dy="11.23">not null</tspan></text>
</g>

<g id="InPDRList">
<rect class="sh" x="1426.1" y="870.2" width="281.2" height="89.9"/>
<rect class="box" x="1418.1" y="862.2" width="281.2" height="89.9"/>
<line class="hd" x1="1418.1" y1="894.4" x2="1699.3" y2="894.4"/>
<text class="t" x="1558.7" y="881.2">InPDRList</text>
<text class="r" y="907.8"><tspan x="1425.4">ListID</tspan><tspan x="1425.4" dy="11.1">PollingLocationID</tspan><tspan x="1425.4" dy="11.1">PDRFilename</tspan></text>
<text class="r" y="907.8"><tspan x="1520.9">NUMERIC(16)</tspan><tspan x="1520.9" dy="11.1">NUMERIC(9)</tspan><tspan x="1520.9" dy="11.1">VARCHAR(255)</tspan></text>
<text class="r" y="907.8"><tspan x="1613.3">&lt;pk&gt;</tspan><tspan x="1613.3" dy="11.1">&lt;fk&gt;</tspan></text>
<text class="r" y="907.8"><tspan x="1654.5">identity</tspan><tspan x="1654.5" dy="11.1">not null</tspan><tspan x="1654.5" dy="11.1">not null</tspan></text>
</g>

<g id="InXAR">
<rect class="shk" x="2133.3" y="41.3" width="283.1" height="89.9"/>
<rect class="box" x="2125.3" y="33.3" width="283.1" height="89.9"/>
<line class="hd" x1="2125.3" y1="63.3" x2="2408.4" y2="63.3"/>
<text class="t tb" x="2266.8" y="52.3">InXAR</text>
<text class="r b" x="2132.6" y="78.2">IngestGranID</text><text class="r b" x="2218.9" y="78.2">numeric(16)</text><text class="r b" x="2295.8" y="78.2">&lt;pk,fk&gt;</text><text class="r b" x="2352.3" y="78.2">not null</text>
<text class="r b" x="2132.6" y="89.2">XarID</text><text class="r b" x="2218.9" y="89.2">numeric(16)</text><text class="r b" x="2295.8" y="89.2">&lt;pk&gt;</text><text class="r b" x="2352.3" y="89.2">not null</text>
<text class="r" x="2132.6" y="100.2">XarType</text><text class="r" x="2218.9" y="100.2">varchar(64)</text><text class="r" x="2352.3" y="100.2">not null</text>
<text class="r" x="2132.6" y="111.2">LastUpdate</text><text class="r" x="2218.9" y="111.2">datetime</text><text class="r" x="2352.3" y="111.2">null</text>
</g>

<g id="InGranuleState">
<rect class="sh" x="2536.6" y="18.7" width="262.3" height="89.5"/>
<rect class="box" x="2528.6" y="10.7" width="262.3" height="89.5"/>
<line class="hd" x1="2528.6" y1="42.9" x2="2790.9" y2="42.9"/>
<text class="t" x="2659.7" y="29.7">InGranuleState</text>
<text class="r" x="2535.9" y="56">DataGranuleState</text><text class="r" x="2637.2" y="56">varchar(20)</text><text class="r" x="2706.3" y="56">&lt;pk&gt;</text><text class="r" x="2747.5" y="56">not null</text>
<text class="r" x="2535.9" y="67.1">SequenceNum</text><text class="r" x="2637.2" y="67.1">INT</text><text class="r" x="2747.5" y="67.1">null</text>
</g>

<g id="InSuspendedGranule">
<rect class="sh" x="2129.3" y="255.1" width="277.6" height="89.9"/>
<rect class="box" x="2121.3" y="247.1" width="277.6" height="89.9"/>
<line class="hd" x1="2121.3" y1="277" x2="2398.9" y2="277"/>
<text class="t" x="2260.1" y="266.1">InSuspendedGranule</text>
<text class="r" y="290.8"><tspan x="2128.9">IngestGranID</tspan><tspan x="2128.9" dy="11.1">ResourceType</tspan><tspan x="2128.9" dy="11.1">ResourceID</tspan><tspan x="2128.9" dy="11.1">RequestID</tspan></text>
<text class="r" y="290.8"><tspan x="2213">NUMERIC(16)</tspan><tspan x="2213" dy="11.1">VARCHAR(30)</tspan><tspan x="2213" dy="11.1">NUMERIC(9)</tspan><tspan x="2213" dy="11.1">INT</tspan></text>
<text class="r" y="290.8"><tspan x="2299.4">&lt;pk,fk&gt;</tspan><tspan x="2299.4" dy="11.1">&lt;pk&gt;</tspan></text>
<text class="r" y="290.8"><tspan x="2354.1">not null</tspan><tspan x="2354.1" dy="11.1">not null</tspan><tspan x="2354.1" dy="11.1">null</tspan><tspan x="2354.1" dy="11.1">null</tspan></text>
</g>

<g id="InGranuleLinkage">
<rect class="sh" x="2545.7" y="240.3" width="221.6" height="89.9"/>
<rect class="box" x="2537.7" y="232.3" width="221.6" height="89.9"/>
<line class="hd" x1="2537.7" y1="263.7" x2="2759.3" y2="263.7"/>
<text class="t" x="2648.5" y="251.3">InGranuleLinkage</text>
<text class="r" x="2545" y="277.9">IngestGranID</text><text class="r" x="2625.9" y="277.9">NUMERIC(16)</text><text class="r" x="2718.1" y="277.9">not null</text>
<text class="r" x="2545" y="289">GranuleUR</text><text class="r" x="2625.9" y="289">VARCHAR(255)</text><text class="r" x="2718.1" y="289">not null</text>
</g>

<g id="InDPLIngestGranule">
<rect class="sh" x="2427.2" y="499.2" width="364" height="457.2"/>
<rect class="box" x="2419.2" y="491.2" width="364" height="457.2"/>
<line class="hd" x1="2419.2" y1="522.7" x2="2783.2" y2="522.7"/>
<text class="t" x="2601.2" y="510.2">InDPLIngestGranule</text>
<text class="r" y="536.1"><tspan x="2426.9">IngestGranID</tspan><tspan x="2426.9" dy="11.22">RequestID</tspan><tspan x="2426.9" dy="11.22">DPLGranuleID</tspan><tspan x="2426.9" dy="11.22">ECSGranuleID</tspan><tspan x="2426.9" dy="11.22">GranSeqNum</tspan><tspan x="2426.9" dy="11.22">DataType</tspan><tspan x="2426.9" dy="11.22">VersionID</tspan><tspan x="2426.9" dy="11.22">DataDescriptor</tspan><tspan x="2426.9" dy="11.22">NonEcsFlag</tspan><tspan x="2426.9" dy="11.22">GranuleStatus</tspan><tspan x="2426.9" dy="11.22">StatusDetail</tspan><tspan x="2426.9" dy="11.22">LastError</tspan><tspan x="2426.9" dy="11.22">LastCheckpointedState</tspan><tspan x="2426.9" dy="11.22">GranuleSize</tspan><tspan x="2426.9" dy="11.22">GranuleCompleted</tspan><tspan x="2426.9" dy="11.22">GranuleRpcID</tspan><tspan x="2426.9" dy="11.22">GranuleHandle</tspan><tspan x="2426.9" dy="11.22">PreprocFilenameUuid</tspan><tspan x="2426.9" dy="11.22">NodeName</tspan><tspan x="2426.9" dy="11.22">ArchiveID</tspan><tspan x="2426.9" dy="11.22">AltArchiveID</tspan><tspan x="2426.9" dy="11.22">ProcessingEndDateTime</tspan><tspan x="2426.9" dy="11.22">ProcessingStartDateTime</tspan><tspan x="2426.9" dy="11.22">StagingDir</tspan><tspan x="2426.9" dy="11.22">RetryCount</tspan><tspan x="2426.9" dy="11.22">DataFormat</tspan><tspan x="2426.9" dy="11.22">TotalFileCount</tspan><tspan x="2426.9" dy="11.22">TimeToArchive</tspan><tspan x="2426.9" dy="11.22">TimeToPreprocess</tspan><tspan x="2426.9" dy="11.22">TimeToChecksum</tspan><tspan x="2426.9" dy="11.22">TimeToCompress</tspan><tspan x="2426.9" dy="11.22">TimeToInsert</tspan><tspan x="2426.9" dy="11.22">TimeToCompChecksum</tspan><tspan x="2426.9" dy="11.22">TimeToXfer</tspan><tspan x="2426.9" dy="11.22">TimeToPublish</tspan><tspan x="2426.9" dy="11.22">DPLIngestFlag</tspan><tspan x="2426.9" dy="11.22">LastUpdate</tspan></text>
<text class="r" y="536.1"><tspan x="2566.2">NUMERIC(16)</tspan><tspan x="2566.2" dy="11.22">int</tspan><tspan x="2566.2" dy="11.22">NUMERIC(16)</tspan><tspan x="2566.2" dy="11.22">NUMERIC(16)</tspan><tspan x="2566.2" dy="11.22">int</tspan><tspan x="2566.2" dy="11.22">varchar(32)</tspan><tspan x="2566.2" dy="11.22">varchar(16)</tspan><tspan x="2566.2" dy="11.22">varchar(60)</tspan><tspan x="2566.2" dy="11.22">CHAR(1)</tspan><tspan x="2566.2" dy="11.22">char(20)</tspan><tspan x="2566.2" dy="11.22">VARCHAR(255)</tspan><tspan x="2566.2" dy="11.22">VARCHAR(30)</tspan><tspan x="2566.2" dy="11.22">VARCHAR(30)</tspan><tspan x="2566.2" dy="11.22">FLOAT</tspan><tspan x="2566.2" dy="11.22">smallint</tspan><tspan x="2566.2" dy="11.22">VARCHAR(255)</tspan><tspan x="2566.2" dy="11.22">varchar(100)</tspan><tspan x="2566.2" dy="11.22">varchar(36)</tspan><tspan x="2566.2" dy="11.22">varchar(255)</tspan><tspan x="2566.2" dy="11.22">NUMERIC(9)</tspan><tspan x="2566.2" dy="11.22">NUMERIC(9)</tspan><tspan x="2566.2" dy="11.22">datetime</tspan><tspan x="2566.2" dy="11.22">datetime</tspan><tspan x="2566.2" dy="11.22">varchar(255)</tspan><tspan x="2566.2" dy="11.22">smallint</tspan><tspan x="2566.2" dy="11.22">VARCHAR(30)</tspan><tspan x="2566.2" dy="11.22">int</tspan><tspan x="2566.2" dy="11.22">int</tspan><tspan x="2566.2" dy="11.22">int</tspan><tspan x="2566.2" dy="11.22">INT</tspan><tspan x="2566.2" dy="11.22">INT</tspan><tspan x="2566.2" dy="11.22">INT</tspan><tspan x="2566.2" dy="11.22">INT</tspan><tspan x="2566.2" dy="11.22">int</tspan><tspan x="2566.2" dy="11.22">INT</tspan><tspan x="2566.2" dy="11.22">CHAR(1)</tspan><tspan x="2566.2" dy="11.22">DATETIME</tspan></text>
<text class="r" x="2658" y="536.1">&lt;pk,fk2,fk3&gt;</text>
<text class="r" x="2658" y="547.3">&lt;fk1&gt;</text>
<text class="r" x="2658" y="637.1">&lt;fk5&gt;</text>
<text class="r" y="536.1"><tspan x="2736.6">not null</tspan><tspan x="2736.6" dy="11.22">not null</tspan><tspan x="2736.6" dy="11.22">null</tspan><tspan x="2736.6" dy="11.22">null</tspan><tspan x="2736.6" dy="11.22">not null</tspan><tspan x="2736.6" dy="11.22">not null</tspan><tspan x="2736.6" dy="11.22">not null</tspan><tspan x="2736.6" dy="11.22">null</tspan><tspan x="2736.6" dy="11.22">null</tspan><tspan x="2736.6" dy="11.22">not null</tspan><tspan x="2736.6" dy="11.22">null</tspan><tspan x="2736.6" dy="11.22">null</tspan><tspan x="2736.6" dy="11.22">null</tspan><tspan x="2736.6" dy="11.22">null</tspan><tspan x="2736.6" dy="11.22">not null</tspan><tspan x="2736.6" dy="11.22">null</tspan><tspan x="2736.6" dy="11.22">null</tspan><tspan x="2736.6" dy="11.22">null</tspan><tspan x="2736.6" dy="11.22">null</tspan><tspan x="2736.6" dy="11.22">null</tspan><tspan x="2736.6" dy="11.22">null</tspan><tspan x="2736.6" dy="11.22">null</tspan><tspan x="2736.6" dy="11.22">null</tspan><tspan x="2736.6" dy="11.22">null</tspan><tspan x="2736.6" dy="11.22">null</tspan><tspan x="2736.6" dy="11.22">null</tspan><tspan x="2736.6" dy="11.22">null</tspan><tspan x="2736.6" dy="11.22">not null</tspan><tspan x="2736.6" dy="11.22">not null</tspan><tspan x="2736.6" dy="11.22">null</tspan><tspan x="2736.6" dy="11.22">null</tspan><tspan x="2736.6" dy="11.22">null</tspan><tspan x="2736.6" dy="11.22">null</tspan><tspan x="2736.6" dy="11.22">null</tspan><tspan x="2736.6" dy="11.22">null</tspan><tspan x="2736.6" dy="11.22">null</tspan><tspan x="2736.6" dy="11.22">null</tspan></text>
</g>

<g id="InRequestProcessData">
<rect class="box" x="2434.6" y="1053.5" width="320.6" height="266.1"/>
<line class="hd" x1="2434.6" y1="1083.4" x2="2755.2" y2="1083.4"/>
<text class="t" x="2594.9" y="1072.5">InRequestProcessData</text>
<text class="r b" x="2442.7" y="1098">RequestID</text><text class="r b" x="2581.1" y="1098">int</text><text class="r b" x="2656.2" y="1098">&lt;pk&gt;</text><text class="r b" x="2699.6" y="1098">not null</text>
<text class="r b" x="2442.7" y="1109.25">DataGranuleID</text><text class="r b" x="2581.1" y="1109.25">int</text><text class="r b" x="2656.2" y="1109.25">&lt;pk&gt;</text><text class="r b" x="2699.6" y="1109.25">not null</text>
<text class="r b" x="2442.7" y="1120.5">DataType</text><text class="r b" x="2581.1" y="1120.5">varchar(32)</text><text class="r b" x="2656.2" y="1120.5">&lt;pk&gt;</text><text class="r b" x="2699.6" y="1120.5">not null</text>
<text class="r" y="1131.75"><tspan x="2442.7">DataDescriptor</tspan><tspan x="2442.7" dy="11.25">DataGranuleState</tspan><tspan x="2442.7" dy="11.25">DataGranuleVolume</tspan><tspan x="2442.7" dy="11.25">VersionID</tspan><tspan x="2442.7" dy="11.25">GranuleCompleted</tspan><tspan x="2442.7" dy="11.25">GranuleHandle</tspan><tspan x="2442.7" dy="11.25">GranuleRpcID</tspan><tspan x="2442.7" dy="11.25">PreprocFilenameUuid</tspan><tspan x="2442.7" dy="11.25">NodeName</tspan><tspan x="2442.7" dy="11.25">ProcessingEndDateTime</tspan><tspan x="2442.7" dy="11.25">ProcessingStartDateTime</tspan><tspan x="2442.7" dy="11.25">StagingTagID</tspan><tspan x="2442.7" dy="11.25">RetryCount</tspan><tspan x="2442.7" dy="11.25">TotalFileCount</tspan><tspan x="2442.7" dy="11.25">TimeToArchive</tspan><tspan x="2442.7" dy="11.25">TimeToPreprocess</tspan><tspan x="2442.7" dy="11.25">TimeToXfer</tspan></text>
<text class="r" y="1131.75"><tspan x="2581.1">varchar(60)</tspan><tspan x="2581.1" dy="11.25">varchar(20)</tspan><tspan x="2581.1" dy="11.25">float(8)</tspan><tspan x="2581.1" dy="11.25">varchar(16)</tspan><tspan x="2581.1" dy="11.25">smallint</tspan><tspan x="2581.1" dy="11.25">varchar(100)</tspan><tspan x="2581.1" dy="11.25">varchar(255)</tspan><tspan x="2581.1" dy="11.25">varchar(36)</tspan><tspan x="2581.1" dy="11.25">varchar(255)</tspan><tspan x="2581.1" dy="11.25">datetime</tspan><tspan x="2581.1" dy="11.25">datetime</tspan><tspan x="2581.1" dy="11.25">varchar(255)</tspan><tspan x="2581.1" dy="11.25">smallint</tspan><tspan x="2581.1" dy="11.25">int</tspan><tspan x="2581.1" dy="11.25">int</tspan><tspan x="2581.1" dy="11.25">int</tspan><tspan x="2581.1" dy="11.25">int</tspan></text>
<text class="r" y="1131.75"><tspan x="2699.6">null</tspan><tspan x="2699.6" dy="11.25">not null</tspan><tspan x="2699.6" dy="11.25">null</tspan><tspan x="2699.6" dy="11.25">not null</tspan><tspan x="2699.6" dy="11.25">not null</tspan><tspan x="2699.6" dy="11.25">null</tspan><tspan x="2699.6" dy="11.25">null</tspan><tspan x="2699.6" dy="11.25">null</tspan><tspan x="2699.6" dy="11.25">null</tspan><tspan x="2699.6" dy="11.25">null</tspan><tspan x="2699.6" dy="11.25">null</tspan><tspan x="2699.6" dy="11.25">null</tspan><tspan x="2699.6" dy="11.25">null</tspan><tspan x="2699.6" dy="11.25">null</tspan><tspan x="2699.6" dy="11.25">not null</tspan><tspan x="2699.6" dy="11.25">not null</tspan><tspan x="2699.6" dy="11.25">not null</tspan></text>
</g>

<g id="InRequestProcessHeader">
<rect class="box" x="1945.6" y="1042.7" width="322.2" height="345.2"/>
<line class="hd" x1="1945.6" y1="1074.6" x2="2267.8" y2="1074.6"/>
<text class="t" x="2106.7" y="1061.7">InRequestProcessHeader</text>
<text class="r" y="1088"><tspan x="1952.9">RequestID</tspan><tspan x="1952.9" dy="11.27">SequenceID</tspan><tspan x="1952.9" dy="11.27">CDSName</tspan><tspan x="1952.9" dy="11.27">ArchPercentComplete</tspan><tspan x="1952.9" dy="11.27">DANFileName</tspan><tspan x="1952.9" dy="11.27">DDNDestination</tspan><tspan x="1952.9" dy="11.27">SpecProc</tspan><tspan x="1952.9" dy="11.27">ExpirationDateTime</tspan><tspan x="1952.9" dy="11.27">ExpiredFlag</tspan><tspan x="1952.9" dy="11.27">ExternalDataProvider</tspan><tspan x="1952.9" dy="11.27">IngestType</tspan><tspan x="1952.9" dy="11.27">MediaId</tspan><tspan x="1952.9" dy="11.27">Mission</tspan><tspan x="1952.9" dy="11.27">PreprocPercentComplete</tspan><tspan x="1952.9" dy="11.27">ProcessingStartDate</tspan><tspan x="1952.9" dy="11.27">ProcessingEndDate</tspan><tspan x="1952.9" dy="11.27">RequestPriority</tspan><tspan x="1952.9" dy="11.27">RequestStateKey</tspan><tspan x="1952.9" dy="11.27">TotalDataVolume</tspan><tspan x="1952.9" dy="11.27">TotalFileCount</tspan><tspan x="1952.9" dy="11.27">TotalGranuleCount</tspan><tspan x="1952.9" dy="11.27">TransferFlag</tspan><tspan x="1952.9" dy="11.27">UUID</tspan><tspan x="1952.9" dy="11.27">XferPercentComplete</tspan><tspan x="1952.9" dy="11.27">InitialRpcID</tspan><tspan x="1952.9" dy="11.27">ReqMgrRpcID</tspan><tspan x="1952.9" dy="11.27">ResubmitFlag</tspan></text>
<text class="r" y="1088"><tspan x="2087.4">INT</tspan><tspan x="2087.4" dy="11.27">INT</tspan><tspan x="2087.4" dy="11.27">VARCHAR(255)</tspan><tspan x="2087.4" dy="11.27">SMALLINT</tspan><tspan x="2087.4" dy="11.27">VARCHAR(255)</tspan><tspan x="2087.4" dy="11.27">INT</tspan><tspan x="2087.4" dy="11.27">SMALLINT</tspan><tspan x="2087.4" dy="11.27">DATETIME</tspan><tspan x="2089.9" dy="11.27">SMALLINT</tspan><tspan x="2087.4" dy="11.27">VARCHAR(20)</tspan><tspan x="2087.4" dy="11.27">VARCHAR(40)</tspan><tspan x="2087.4" dy="11.27">VARCHAR(32)</tspan><tspan x="2087.4" dy="11.27">VARCHAR(60)</tspan><tspan x="2087.4" dy="11.27">SMALLINT</tspan><tspan x="2087.4" dy="11.27">DATETIME</tspan><tspan x="2087.4" dy="11.27">DATETIME</tspan><tspan x="2087.4" dy="11.27">VARCHAR(10)</tspan><tspan x="2087.4" dy="11.27">TINYINT</tspan><tspan x="2087.4" dy="11.27">float(48)</tspan><tspan x="2087.4" dy="11.27">INT</tspan><tspan x="2087.4" dy="11.27">INT</tspan><tspan x="2087.4" dy="11.27">SMALLINT</tspan><tspan x="2087.4" dy="11.27">CHAR(36)</tspan><tspan x="2087.4" dy="11.27">SMALLINT</tspan><tspan x="2087.4" dy="11.27">VARCHAR(255)</tspan><tspan x="2087.4" dy="11.27">VARCHAR(255)</tspan><tspan x="2087.4" dy="11.27">TINYINT</tspan></text>
<text class="r" x="2180" y="1088">&lt;pk&gt;</text>
<text class="r" y="1088"><tspan x="2220.7">not null</tspan><tspan x="2220.7" dy="11.27">not null</tspan><tspan x="2220.7" dy="11.27">null</tspan><tspan x="2220.7" dy="11.27">not null</tspan><tspan x="2220.7" dy="11.27">not null</tspan><tspan x="2220.7" dy="11.27">null</tspan><tspan x="2220.7" dy="11.27">not null</tspan><tspan x="2220.7" dy="11.27">null</tspan><tspan x="2220.7" dy="11.27">not null</tspan><tspan x="2220.7" dy="11.27">not null</tspan><tspan x="2220.7" dy="11.27">not null</tspan><tspan x="2220.7" dy="11.27">null</tspan><tspan x="2220.7" dy="11.27">null</tspan><tspan x="2220.7" dy="11.27">not null</tspan><tspan x="2220.7" dy="11.27">null</tspan><tspan x="2220.7" dy="11.27">null</tspan><tspan x="2220.7" dy="11.27">not null</tspan><tspan x="2220.7" dy="11.27">null</tspan><tspan x="2220.7" dy="11.27">null</tspan><tspan x="2220.7" dy="11.27">null</tspan><tspan x="2220.7" dy="11.27">null</tspan><tspan x="2220.7" dy="11.27">not null</tspan><tspan x="2220.7" dy="11.27">null</tspan><tspan x="2220.7" dy="11.27">not null</tspan><tspan x="2220.7" dy="11.27">not null</tspan><tspan x="2220.7" dy="11.27">null</tspan><tspan x="2220.7" dy="11.27">null</tspan></text>
</g>

<g id="InProcessingServerMessage">
<rect class="sh" x="1418.4" y="1213.7" width="270.3" height="166.5"/>
<rect class="box" x="1410.4" y="1205.7" width="270.3" height="166.5"/>
<line class="hd" x1="1410.4" y1="1237.3" x2="1680.7" y2="1237.3"/>
<text class="t" x="1545.5" y="1224.7">InProcessingServerMessage</text>
<text class="r" y="1251.2"><tspan x="1418.1">MessageID</tspan><tspan x="1418.1" dy="11.29">MessageType</tspan><tspan x="1418.1" dy="11.29">CreationDate</tspan><tspan x="1418.1" dy="11.29">CompletionTime</tspan><tspan x="1418.1" dy="11.29">RequestID</tspan><tspan x="1418.1" dy="11.29">IngestGranID</tspan><tspan x="1418.1" dy="11.29">EsdtType</tspan><tspan x="1418.1" dy="11.29">MessageStatus</tspan><tspan x="1418.1" dy="11.29">ResourceID</tspan><tspan x="1418.1" dy="11.29">ResourceType</tspan><tspan x="1418.1" dy="11.29">MessageSource</tspan></text>
<text class="r" y="1251.2"><tspan x="1509.6">NUMERIC(16)</tspan><tspan x="1509.6" dy="11.29">VARCHAR(30)</tspan><tspan x="1509.6" dy="11.29">DATETIME</tspan><tspan x="1509.6" dy="11.29">DATETIME</tspan><tspan x="1509.6" dy="11.29">INT</tspan><tspan x="1509.6" dy="11.29">NUMERIC(16)</tspan><tspan x="1509.6" dy="11.29">VARCHAR(32)</tspan><tspan x="1509.6" dy="11.29">VARCHAR(30)</tspan><tspan x="1509.6" dy="11.29">NUMERIC(9)</tspan><tspan x="1509.6" dy="11.29">VARCHAR(30)</tspan><tspan x="1509.6" dy="11.29">VARCHAR(30)</tspan></text>
<text class="r" x="1596.5" y="1251.2">&lt;pk&gt;</text>
<text class="r" x="1596.5" y="1296.4">&lt;fk&gt;</text>
<text class="r" y="1251.2"><tspan x="1637.3">identity</tspan><tspan x="1637.3" dy="11.29">not null</tspan><tspan x="1637.3" dy="11.29">not null</tspan><tspan x="1637.3" dy="11.29">null</tspan><tspan x="1637.3" dy="11.29">null</tspan><tspan x="1637.3" dy="11.29">null</tspan><tspan x="1637.3" dy="11.29">null</tspan><tspan x="1637.3" dy="11.29">null</tspan><tspan x="1637.3" dy="11.29">null</tspan><tspan x="1637.3" dy="11.29">null</tspan><tspan x="1637.3" dy="11.29">null</tspan></text>
</g>

<g id="InGranuleFacts">
<rect class="sh" x="994.6" y="1269.9" width="274" height="142.3"/>
<rect class="box" x="986.6" y="1261.9" width="274" height="142.3"/>
<line class="hd" x1="986.6" y1="1292.4" x2="1260.6" y2="1292.4"/>
<text class="t" x="1123.6" y="1280.9">InGranuleFacts</text>
<text class="r" y="1306"><tspan x="993.9">IngestGranID</tspan><tspan x="993.9" dy="11.25">RequestID</tspan><tspan x="993.9" dy="11.25">DataProviderID</tspan><tspan x="993.9" dy="11.25">FileSystemID</tspan><tspan x="993.9" dy="11.25">ArchiveID</tspan><tspan x="993.9" dy="11.25">AltArchiveID</tspan><tspan x="993.9" dy="11.25">TransferHostID</tspan><tspan x="993.9" dy="11.25">GranuleStatus</tspan><tspan x="993.9" dy="11.25">GranuleSize</tspan></text>
<text class="r" y="1306"><tspan x="1084">NUMERIC(16)</tspan><tspan x="1084" dy="11.25">INT</tspan><tspan x="1084" dy="11.25">NUMERIC(9)</tspan><tspan x="1084" dy="11.25">NUMERIC(9)</tspan><tspan x="1084" dy="11.25">NUMERIC(9)</tspan><tspan x="1084" dy="11.25">NUMERIC(9)</tspan><tspan x="1084" dy="11.25">NUMERIC(9)</tspan><tspan x="1084" dy="11.25">VARCHAR(30)</tspan><tspan x="1084" dy="11.25">FLOAT</tspan></text>
<text class="r" x="1170.9" y="1306">&lt;pk&gt;</text>
<text class="r" y="1328.5"><tspan x="1170.9">&lt;fk3&gt;</tspan><tspan x="1170.9" dy="11.25">&lt;fk2&gt;</tspan><tspan x="1170.9" dy="11.25">&lt;fk1&gt;</tspan></text>
<text class="r" y="1306"><tspan x="1215.3">not null</tspan><tspan x="1215.3" dy="11.25">not null</tspan><tspan x="1215.3" dy="11.25">not null</tspan><tspan x="1215.3" dy="11.25">null</tspan><tspan x="1215.3" dy="11.25">null</tspan><tspan x="1215.3" dy="11.25">null</tspan><tspan x="1215.3" dy="11.25">null</tspan><tspan x="1215.3" dy="11.25">not null</tspan><tspan x="1215.3" dy="11.25">not null</tspan></text>
</g>

<g id="InTempArchivingThroughput">
<rect class="sh" x="790" y="1560.6" width="236.3" height="108.9"/>
<rect class="box" x="782" y="1552.6" width="236.3" height="108.9"/>
<line class="hd" x1="782" y1="1582.7" x2="1018.3" y2="1582.7"/>
<text class="t" x="900.2" y="1571.6">InTempArchivingThroughput</text>
<text class="r" y="1595.9"><tspan x="789.2">IngestGranID</tspan><tspan x="789.2" dy="11.4">Throughput</tspan><tspan x="789.2" dy="11.4">GranuleSize</tspan><tspan x="789.2" dy="11.4">ArchiveLabel</tspan><tspan x="789.2" dy="11.4">FileSystemLabel</tspan><tspan x="789.2" dy="11.4">InsertDate</tspan></text>
<text class="r" y="1595.9"><tspan x="882.9">NUMERIC(16)</tspan><tspan x="882.9" dy="11.4">FLOAT</tspan><tspan x="882.9" dy="11.4">FLOAT</tspan><tspan x="882.9" dy="11.4">VARCHAR(100)</tspan><tspan x="882.9" dy="11.4">CHAR(10)</tspan><tspan x="882.9" dy="11.4">DATETIME</tspan></text>
<text class="r" y="1595.9"><tspan x="975.3">not null</tspan><tspan x="975.3" dy="11.4">not null</tspan><tspan x="975.3" dy="11.4">not null</tspan><tspan x="975.3" dy="11.4">not null</tspan><tspan x="975.3" dy="11.4">not null</tspan><tspan x="975.3" dy="11.4">null</tspan></text>
</g>

<g id="InDPLFileSystemUsage">
<rect class="sh" x="1231" y="1566.8" width="288.4" height="132.4"/>
<rect class="box gray" x="1223" y="1558.8" width="288.4" height="132.4"/>
<line class="hd" x1="1223" y1="1590.3" x2="1511.4" y2="1590.3"/>
<text class="t" x="1367.2" y="1577.8">InDPLFileSystemUsage</text>
<text class="r" y="1603.9"><tspan x="1230.7">FileSystemID</tspan><tspan x="1230.7" dy="11.26">FileSystemLabel</tspan><tspan x="1230.7" dy="11.26">FileSystemStatus</tspan><tspan x="1230.7" dy="11.26">FreeSpaceChecked</tspan><tspan x="1230.7" dy="11.26">RetryMode</tspan><tspan x="1230.7" dy="11.26">LastUpdate</tspan><tspan x="1230.7" dy="11.26">FreeSpaceGB</tspan><tspan x="1230.7" dy="11.26">ConsumedSpace</tspan></text>
<text class="r" y="1603.9"><tspan x="1338.9">NUMERIC(9)</tspan><tspan x="1338.9" dy="11.26">CHAR(10)</tspan><tspan x="1338.9" dy="11.26">VARCHAR(30)</tspan><tspan x="1338.9" dy="11.26">DATETIME</tspan><tspan x="1338.9" dy="11.26">CHAR(1)</tspan><tspan x="1338.9" dy="11.26">DATETIME</tspan><tspan x="1338.9" dy="11.26">INT</tspan><tspan x="1338.9" dy="11.26">TINYINT</tspan></text>
<text class="r" x="1424.9" y="1603.9">&lt;pk&gt;</text>
<text class="r" y="1603.9"><tspan x="1466.6">identity</tspan><tspan x="1466.6" dy="11.26">not null</tspan><tspan x="1466.6" dy="11.26">null</tspan><tspan x="1466.6" dy="11.26">null</tspan><tspan x="1466.6" dy="11.26">null</tspan><tspan x="1466.6" dy="11.26">not null</tspan><tspan x="1466.6" dy="11.26">not null</tspan><tspan x="1466.6" dy="11.26">null</tspan></text>
</g>

<g id="InDPLFileSystemStats">
<rect class="sh" x="1806.5" y="1534.8" width="288.8" height="132.5"/>
<rect class="box" x="1798.5" y="1526.8" width="288.8" height="132.5"/>
<line class="hd" x1="1798.5" y1="1558.4" x2="2087.3" y2="1558.4"/>
<text class="t" x="1942.9" y="1545.8">InDPLFileSystemStats</text>
<text class="r" y="1572"><tspan x="1806.6">FileSystemLabel</tspan><tspan x="1806.6" dy="11.3">StartDate</tspan><tspan x="1806.6" dy="11.3">StopDate</tspan><tspan x="1806.6" dy="11.3">MinThroughput</tspan><tspan x="1806.6" dy="11.3">MaxThroughput</tspan><tspan x="1806.6" dy="11.3">AverageThroughput</tspan><tspan x="1806.6" dy="11.3">NumGranulesArchived</tspan><tspan x="1806.6" dy="11.3">SizeDataArchived</tspan></text>
<text class="r" y="1572"><tspan x="1928.4">CHAR(10)</tspan><tspan x="1928.4" dy="11.3">DATETIME</tspan><tspan x="1928.4" dy="11.3">DATETIME</tspan><tspan x="1928.4" dy="11.3">FLOAT</tspan><tspan x="1928.4" dy="11.3">FLOAT</tspan><tspan x="1928.4" dy="11.3">FLOAT</tspan><tspan x="1928.4" dy="11.3">INT</tspan><tspan x="1928.4" dy="11.3">FLOAT</tspan></text>
<text class="r" y="1572"><tspan x="2001.3">&lt;pk&gt;</tspan><tspan x="2001.3" dy="11.3">&lt;pk&gt;</tspan><tspan x="2001.3" dy="11.3">&lt;pk&gt;</tspan></text>
<text class="r" y="1572"><tspan x="2043">not null</tspan><tspan x="2043" dy="11.3">not null</tspan><tspan x="2043" dy="11.3">not null</tspan><tspan x="2043" dy="11.3">not null</tspan><tspan x="2043" dy="11.3">not null</tspan><tspan x="2043" dy="11.3">not null</tspan><tspan x="2043" dy="11.3">not null</tspan><tspan x="2043" dy="11.3">not null</tspan></text>
</g>

<g id="InDPLIngestFile">
<rect class="sh" x="2260.8" y="1444.8" width="322.4" height="264.9"/>
<rect class="box" x="2252.8" y="1436.8" width="322.4" height="264.9"/>
<line class="hd" x1="2252.8" y1="1468.4" x2="2575.2" y2="1468.4"/>
<text class="t" x="2414" y="1455.8">InDPLIngestFile</text>
<text class="r" y="1482"><tspan x="2260.5">FileName</tspan><tspan x="2260.5" dy="11.17">IngestGranID</tspan><tspan x="2260.5" dy="11.17">FileSize</tspan><tspan x="2260.5" dy="11.17">FileStatus</tspan><tspan x="2260.5" dy="11.17">StatusDetail</tspan><tspan x="2260.5" dy="11.17">FileType</tspan><tspan x="2260.5" dy="11.17">SourceDirectoryID</tspan><tspan x="2260.5" dy="11.17">XferDate</tspan><tspan x="2260.5" dy="11.17">CompletionTime</tspan><tspan x="2260.5" dy="11.17">FileNumber</tspan><tspan x="2260.5" dy="11.17">ChecksumOrigin</tspan><tspan x="2260.5" dy="11.17">ChecksumType</tspan><tspan x="2260.5" dy="11.17">ChecksumValue</tspan><tspan x="2260.5" dy="11.17">CompChecksumOrigin</tspan><tspan x="2260.5" dy="11.17">CompChecksumType</tspan><tspan x="2260.5" dy="11.17">CompChecksumValue</tspan><tspan x="2260.5" dy="11.17">FileState</tspan><tspan x="2260.5" dy="11.17">ChecksumVerificationFlag</tspan><tspan x="2260.5" dy="11.17">DPLIngestFlag</tspan><tspan x="2260.5" dy="11.17">LastUpdate</tspan></text>
<text class="r" y="1482"><tspan x="2398.9">varchar(245)</tspan><tspan x="2398.9" dy="11.17">NUMERIC(16)</tspan><tspan x="2398.9" dy="11.17">int</tspan><tspan x="2398.9" dy="11.17">smallint</tspan><tspan x="2398.9" dy="11.17">VARCHAR(255)</tspan><tspan x="2398.9" dy="11.17">varchar(32)</tspan><tspan x="2398.9" dy="11.17">varchar(255)</tspan><tspan x="2398.9" dy="11.17">DATETIME</tspan><tspan x="2398.9" dy="11.17">int</tspan><tspan x="2398.9" dy="11.17">int</tspan><tspan x="2398.9" dy="11.17">VARCHAR(20)</tspan><tspan x="2398.9" dy="11.17">VARCHAR(64)</tspan><tspan x="2398.9" dy="11.17">VARCHAR(40)</tspan><tspan x="2398.9" dy="11.17">VARCHAR(20)</tspan><tspan x="2398.9" dy="11.17">VARCHAR(64)</tspan><tspan x="2398.9" dy="11.17">VARCHAR(40)</tspan><tspan x="2398.9" dy="11.17">char(15)</tspan><tspan x="2398.9" dy="11.17">CHAR(1)</tspan><tspan x="2398.9" dy="11.17">CHAR(1)</tspan><tspan x="2398.9" dy="11.17">datetime</tspan></text>
<text class="r" x="2491.6" y="1493.2">&lt;fk&gt;</text>
<text class="r" y="1482"><tspan x="2530.4">not null</tspan><tspan x="2530.4" dy="11.17">null</tspan><tspan x="2530.4" dy="11.17">not null</tspan><tspan x="2530.4" dy="11.17">not null</tspan><tspan x="2530.4" dy="11.17">null</tspan><tspan x="2530.4" dy="11.17">null</tspan><tspan x="2530.4" dy="11.17">not null</tspan><tspan x="2530.4" dy="11.17">null</tspan><tspan x="2530.4" dy="11.17">null</tspan><tspan x="2530.4" dy="11.17">not null</tspan><tspan x="2530.4" dy="11.17">null</tspan><tspan x="2530.4" dy="11.17">null</tspan><tspan x="2530.4" dy="11.17">null</tspan><tspan x="2530.4" dy="11.17">null</tspan><tspan x="2530.4" dy="11.17">null</tspan><tspan x="2530.4" dy="11.17">null</tspan><tspan x="2530.4" dy="11.17">null</tspan><tspan x="2530.4" dy="11.17">null</tspan><tspan x="2530.4" dy="11.17">null</tspan><tspan x="2530.4" dy="11.17">null</tspan></text>
</g>

<g id="InRequestFileInfo">
<rect class="box" x="2610.9" y="1466.6" width="230" height="166.5"/>
<line class="hd" x1="2610.9" y1="1498.2" x2="2840.9" y2="1498.2"/>
<text class="t" x="2725" y="1485.6">InRequestFileInfo</text>
<text class="r" y="1512.1"><tspan x="2618.6">RequestID</tspan><tspan x="2618.6" dy="11.22">CompletionTime</tspan><tspan x="2618.6" dy="11.22">DataGranuleID</tspan><tspan x="2618.6" dy="11.22">FileID</tspan><tspan x="2618.6" dy="11.22">FileSize</tspan><tspan x="2618.6" dy="11.22">FileStatus</tspan><tspan x="2618.6" dy="11.22">FileState</tspan><tspan x="2618.6" dy="11.22">FileType</tspan><tspan x="2618.6" dy="11.22">SourceDirectoryID</tspan><tspan x="2618.6" dy="11.22">TimeStamp</tspan><tspan x="2618.6" dy="11.22">FileNumber</tspan></text>
<text class="r" y="1512.1"><tspan x="2721.7">INT</tspan><tspan x="2721.7" dy="11.22">int</tspan><tspan x="2721.7" dy="11.22">int</tspan><tspan x="2721.7" dy="11.22">varchar(245)</tspan><tspan x="2721.7" dy="11.22">int</tspan><tspan x="2721.7" dy="11.22">smallint</tspan><tspan x="2721.7" dy="11.22">char(15)</tspan><tspan x="2721.7" dy="11.22">varchar(32)</tspan><tspan x="2721.7" dy="11.22">varchar(255)</tspan><tspan x="2721.7" dy="11.22">datetime</tspan><tspan x="2721.7" dy="11.22">int</tspan></text>
<text class="r" y="1512.1"><tspan x="2796.8">not null</tspan><tspan x="2796.8" dy="11.22">not null</tspan><tspan x="2796.8" dy="11.22">not null</tspan><tspan x="2796.8" dy="11.22">not null</tspan><tspan x="2796.8" dy="11.22">not null</tspan><tspan x="2796.8" dy="11.22">not null</tspan><tspan x="2796.8" dy="11.22">not null</tspan><tspan x="2796.8" dy="11.22">null</tspan><tspan x="2796.8" dy="11.22">not null</tspan><tspan x="2796.8" dy="11.22">null</tspan><tspan x="2796.8" dy="11.22">not null</tspan></text>
</g>

<g id="notes">
<text class="n" x="471" y="945">Values for TransferFlag:</text>
<text class="n" x="471" y="954.5">0 -- local; 1 -- Ftp; &gt;1 -- Scp</text>
<text class="n" x="471" y="974">View InExternalDataProviderInfo created for compatible</text>
<text class="n" x="471" y="983.5">with 711</text>
<text class="n" x="463.2" y="1397.5">COLUMNS FOR DPAD:</text>
<text class="n" x="463.2" y="1407">InsertStatus</text>
<text class="n" x="463.2" y="1416.5">Silo</text>
<text class="n" x="2530.5" y="125.5">view InValDataGranuleState created for</text>
<text class="n" x="2530.5" y="135">compatible with 711</text>
<text class="l" x="1950.6" y="1402.9">Classic Ingest Request table</text>
<text class="l" x="2438.7" y="1334">Classic Ingest Granule table</text>
<text class="l" x="2639.4" y="1652.9">Classic Ingest File table</text>
<text class="big" x="1523.2" y="1606.2">This table is no longer used</text>
<text class="big" x="1523.2" y="1626">since DPAD, it has been</text>
<text class="big" x="1523.2" y="1647.2">replaced with DIFileSy stems</text>
<text class="big" x="1528.6" y="1667.9">in the DPL database</text>
</g>
</svg>
